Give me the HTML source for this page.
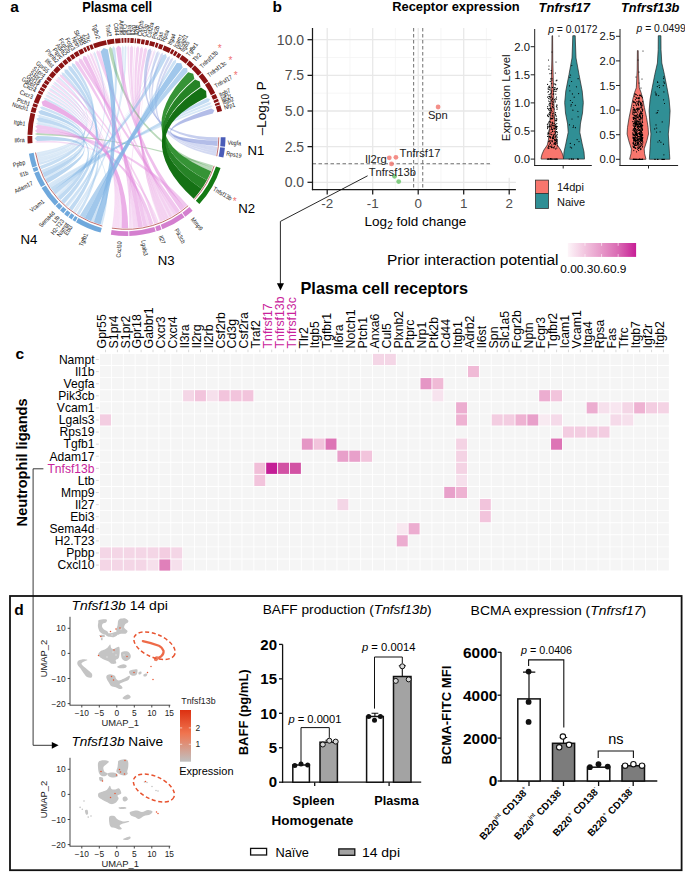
<!DOCTYPE html>
<html><head><meta charset="utf-8"><style>
html,body{margin:0;padding:0;background:#fff;}
svg{display:block;font-family:'Liberation Sans', sans-serif;}

</style></head><body>
<svg width="685" height="878" viewBox="0 0 685 878">
<rect width="685" height="878" fill="#fff"/>
<text x="10.20" y="11.80" font-size="15.5" font-weight="bold">a</text>
<text x="272.40" y="12.10" font-size="15.5" font-weight="bold">b</text>
<text x="15.60" y="358.50" font-size="15.5" font-weight="bold">c</text>
<text x="14.20" y="614.80" font-size="15.5" font-weight="bold">d</text>
<text x="82.20" y="11.70" font-size="14.0" font-weight="bold" textLength="70" lengthAdjust="spacingAndGlyphs">Plasma cell</text>
<text x="392.20" y="11.10" font-size="12.6" font-weight="bold" textLength="127.5" lengthAdjust="spacingAndGlyphs">Receptor expression</text>
<text x="538.60" y="11.60" font-size="12.6" font-weight="bold" font-style="italic" textLength="51.3" lengthAdjust="spacingAndGlyphs">Tnfrsf17</text>
<text x="621.00" y="11.60" font-size="12.6" font-weight="bold" font-style="italic" textLength="58.4" lengthAdjust="spacingAndGlyphs">Tnfrsf13b</text>
<path d="M349.95 28.0V189.6M395.45 28.0V189.6M440.95 28.0V189.6M486.45 28.0V189.6M312.5 164.48H515.9M312.5 128.83H515.9M312.5 93.18H515.9M312.5 57.53H515.9" stroke="#f2f2f2" stroke-width="0.7" fill="none"/>
<path d="M327.20 28.0V189.6M372.70 28.0V189.6M418.20 28.0V189.6M463.70 28.0V189.6M509.20 28.0V189.6M312.5 182.30H515.9M312.5 146.65H515.9M312.5 111.00H515.9M312.5 75.35H515.9M312.5 39.70H515.9" stroke="#e8e8e8" stroke-width="1.3" fill="none"/>
<path d="M413.65 28.0V189.6M422.75 28.0V189.6M312.5 163.76H515.9" stroke="#555" stroke-width="0.85" stroke-dasharray="3.5 2.5" fill="none"/>
<line x1="312.50" y1="28.00" x2="312.50" y2="190.20" stroke="#1a1a1a" stroke-width="1.25"/>
<line x1="311.90" y1="189.60" x2="515.90" y2="189.60" stroke="#1a1a1a" stroke-width="1.25"/>
<line x1="307.50" y1="182.30" x2="312.50" y2="182.30" stroke="#1a1a1a" stroke-width="1.25"/>
<text x="304.10" y="187.30" font-size="14" text-anchor="end" fill="#4d4d4d">0.0</text>
<line x1="307.50" y1="146.65" x2="312.50" y2="146.65" stroke="#1a1a1a" stroke-width="1.25"/>
<text x="304.10" y="151.65" font-size="14" text-anchor="end" fill="#4d4d4d">2.5</text>
<line x1="307.50" y1="111.00" x2="312.50" y2="111.00" stroke="#1a1a1a" stroke-width="1.25"/>
<text x="304.10" y="116.00" font-size="14" text-anchor="end" fill="#4d4d4d">5.0</text>
<line x1="307.50" y1="75.35" x2="312.50" y2="75.35" stroke="#1a1a1a" stroke-width="1.25"/>
<text x="304.10" y="80.35" font-size="14" text-anchor="end" fill="#4d4d4d">7.5</text>
<line x1="307.50" y1="39.70" x2="312.50" y2="39.70" stroke="#1a1a1a" stroke-width="1.25"/>
<text x="304.10" y="44.70" font-size="14" text-anchor="end" fill="#4d4d4d">10.0</text>
<line x1="327.20" y1="189.60" x2="327.20" y2="194.60" stroke="#1a1a1a" stroke-width="1.25"/>
<text x="327.20" y="208.10" font-size="13.4" text-anchor="middle" fill="#4d4d4d">-2</text>
<line x1="372.70" y1="189.60" x2="372.70" y2="194.60" stroke="#1a1a1a" stroke-width="1.25"/>
<text x="372.70" y="208.10" font-size="13.4" text-anchor="middle" fill="#4d4d4d">-1</text>
<line x1="418.20" y1="189.60" x2="418.20" y2="194.60" stroke="#1a1a1a" stroke-width="1.25"/>
<text x="418.20" y="208.10" font-size="13.4" text-anchor="middle" fill="#4d4d4d">0</text>
<line x1="463.70" y1="189.60" x2="463.70" y2="194.60" stroke="#1a1a1a" stroke-width="1.25"/>
<text x="463.70" y="208.10" font-size="13.4" text-anchor="middle" fill="#4d4d4d">1</text>
<line x1="509.20" y1="189.60" x2="509.20" y2="194.60" stroke="#1a1a1a" stroke-width="1.25"/>
<text x="509.20" y="208.10" font-size="13.4" text-anchor="middle" fill="#4d4d4d">2</text>
<text x="364.6" y="226.4" font-size="13.5">Log<tspan font-size="10" dy="3">2</tspan><tspan dy="-3"> fold change</tspan></text>
<text x="265.8" y="108.2" font-size="13.5" text-anchor="middle" transform="rotate(-90 265.8 108.2)">–Log<tspan font-size="10" dy="3">10</tspan><tspan dy="-3"> P</tspan></text>
<circle cx="438.1" cy="107.0" r="2.4" fill="#f27b74" fill-opacity="0.85"/>
<circle cx="389.3" cy="157.8" r="2.4" fill="#f27b74" fill-opacity="0.85"/>
<circle cx="395.9" cy="157.3" r="2.4" fill="#f27b74" fill-opacity="0.85"/>
<circle cx="391.5" cy="163.9" r="2.4" fill="#f27b74" fill-opacity="0.85"/>
<circle cx="394.5" cy="176.3" r="2.4" fill="#6cc46c" fill-opacity="0.85"/>
<circle cx="398.7" cy="181.6" r="2.4" fill="#6cc46c" fill-opacity="0.85"/>
<text x="427.90" y="118.80" font-size="11.2" fill="#222">Spn</text>
<text x="399.40" y="156.60" font-size="11.2" fill="#222">Tnfrsf17</text>
<text x="365.00" y="162.80" font-size="11.2" fill="#222">Il2rg</text>
<text x="368.70" y="176.10" font-size="11.2" fill="#222">Tnfrsf13b</text>
<path d="M367.6 175.8L280.4 221.4V284" stroke="#111" stroke-width="0.9" fill="none"/>
<path d="M276.9 283.2L284.0 283.2L280.45 290.6Z" fill="#000"/>
<rect x="491.30" y="24.00" width="193.70" height="153.80" fill="#fff"/>
<path d="M552.00 35.70L551.85 60.00L551.50 72.90L551.10 91.00L550.30 114.60L549.30 130.00L548.40 140.00L547.30 145.00L543.90 150.00L542.10 154.00L541.30 157.00L541.10 159.10L563.50 159.10L563.30 157.00L562.50 154.00L560.70 150.00L557.30 145.00L556.20 140.00L555.30 130.00L554.30 114.60L553.50 91.00L553.10 72.90L552.75 60.00L552.60 35.70Z" fill="#f8766d" stroke="#222" stroke-width="0.7"/>
<path d="M572.80 35.70L572.50 45.00L572.00 58.00L569.00 74.50L565.80 91.00L564.70 102.60L565.50 113.00L567.60 124.00L568.20 132.30L565.80 143.90L564.00 152.00L563.50 158.80L563.50 159.10L584.50 159.10L584.50 158.80L584.00 152.00L582.20 143.90L579.80 132.30L580.40 124.00L582.50 113.00L583.30 102.60L582.20 91.00L579.00 74.50L576.00 58.00L575.50 45.00L575.20 35.70Z" fill="#308f95" stroke="#222" stroke-width="0.7"/>
<path d="M637.40 50.60L637.20 70.00L636.30 87.80L634.50 92.70L632.80 99.30L631.20 107.60L629.10 117.50L627.50 127.40L627.10 134.00L628.70 140.60L631.40 148.90L631.00 153.80L629.70 158.80L629.70 159.30L645.90 159.30L645.90 158.80L644.60 153.80L644.20 148.90L646.90 140.60L648.50 134.00L648.10 127.40L646.50 117.50L644.40 107.60L642.80 99.30L641.10 92.70L639.30 87.80L638.40 70.00L638.20 50.60Z" fill="#f8766d" stroke="#222" stroke-width="0.7"/>
<path d="M658.30 35.70L658.20 49.80L657.40 63.00L654.80 74.50L652.20 87.80L650.10 99.30L649.10 110.90L649.90 124.10L650.90 134.00L650.30 143.90L649.70 153.80L649.40 158.80L649.40 159.30L669.80 159.30L669.80 158.80L669.50 153.80L668.90 143.90L668.30 134.00L669.30 124.10L670.10 110.90L669.10 99.30L667.00 87.80L664.40 74.50L661.80 63.00L661.00 49.80L660.90 35.70Z" fill="#308f95" stroke="#222" stroke-width="0.7"/>
<path d="M548.9 113.8h0M548.1 132.9h0M551.1 126.9h0M552.5 87.4h0M551.7 83.6h0M548.3 89.3h0M555.7 120.4h0M549.6 96.3h0M556.9 131.7h0M551.4 129.1h0M547.9 147.9h0M550.3 142.6h0M548.6 98.6h0M555.6 112.7h0M553.2 102.2h0M551.1 132.3h0M548.0 127.5h0M549.5 87.6h0M551.7 134.4h0M553.3 113.1h0M550.4 122.2h0M554.4 139.7h0M553.1 107.8h0M556.2 126.3h0M550.3 136.7h0M548.6 148.1h0M555.0 120.0h0M552.3 99.4h0M554.1 83.9h0M553.1 138.4h0M550.5 143.3h0M553.3 135.1h0M552.0 129.3h0M556.8 141.7h0M554.0 123.4h0M554.4 87.8h0M557.3 132.7h0M550.2 140.9h0M554.1 118.0h0M552.0 80.1h0M548.6 101.0h0M555.1 87.5h0M549.9 96.9h0M556.1 118.3h0M551.9 90.8h0M556.2 127.6h0M556.0 140.8h0M551.6 110.5h0M556.2 116.2h0M548.9 146.8h0M549.7 101.8h0M552.2 106.9h0M550.0 129.8h0M551.6 73.1h0M553.1 116.9h0M554.3 146.6h0M553.6 125.8h0M547.9 134.2h0M555.2 144.3h0M555.4 143.2h0M551.4 118.4h0M553.7 93.9h0M548.1 88.1h0M549.0 104.8h0M547.9 114.9h0M548.9 69.2h0M551.0 93.6h0M556.1 80.8h0M548.9 131.1h0M550.9 108.4h0M548.6 116.6h0M557.3 142.1h0M552.2 122.9h0M548.4 91.6h0M550.0 115.1h0M549.0 141.3h0M556.9 80.2h0M548.9 126.5h0M547.7 127.3h0M557.2 126.5h0M554.4 142.8h0M551.1 109.1h0M555.1 100.9h0M555.2 126.7h0M549.6 114.2h0M557.2 140.5h0M555.5 142.3h0M554.8 140.8h0M552.6 106.3h0M547.7 116.0h0M550.2 81.4h0M554.3 109.0h0M551.9 146.8h0M557.3 145.9h0M551.0 146.7h0M549.7 105.8h0M549.4 103.7h0M556.4 131.6h0M552.2 141.8h0M555.4 133.0h0M554.0 91.4h0M555.2 144.7h0M552.2 137.7h0M555.3 102.0h0M555.4 114.4h0M551.4 147.6h0M556.9 119.0h0M549.1 136.5h0M548.9 96.7h0M555.5 144.5h0M555.7 98.8h0M554.0 148.1h0M552.9 115.6h0M547.5 97.1h0M553.9 147.5h0M556.7 126.4h0M556.1 121.0h0M549.5 141.1h0M550.3 108.4h0M553.3 107.5h0M551.6 109.0h0M556.5 97.1h0M552.0 115.9h0M556.4 129.5h0M556.6 120.2h0M552.7 125.0h0M547.6 126.2h0M549.2 121.4h0M555.4 73.0h0M552.1 101.4h0M553.0 136.5h0M552.6 113.9h0M555.2 128.0h0M553.0 94.2h0M550.2 108.1h0M552.5 138.7h0M555.0 128.3h0M551.8 144.9h0M552.5 131.0h0M554.3 125.6h0M552.7 122.1h0M556.8 123.6h0M556.2 135.3h0M550.0 146.1h0M556.8 128.2h0M548.8 141.7h0M551.8 96.1h0M549.8 89.7h0M554.1 89.8h0M556.4 139.2h0M554.6 99.6h0M548.8 133.4h0M557.1 143.6h0M556.9 105.7h0M552.3 118.8h0M555.7 148.9h0M551.7 100.3h0M550.8 125.8h0M550.6 103.6h0M547.6 136.4h0M551.8 127.9h0M550.7 78.8h0M552.5 131.6h0M557.3 88.4h0M557.1 139.4h0M550.1 94.0h0M555.2 84.0h0M548.7 109.8h0M556.5 120.3h0M550.0 140.8h0M556.6 99.1h0M554.4 128.8h0M548.0 92.1h0M551.7 134.7h0M556.8 89.7h0M555.4 132.1h0M556.0 91.3h0M556.0 88.8h0M550.8 122.2h0M556.7 127.8h0M548.7 109.6h0M549.8 126.4h0M549.0 94.6h0M549.4 86.1h0M550.5 112.9h0M550.3 138.1h0M549.2 124.9h0M547.6 115.4h0M547.6 108.3h0M552.9 136.9h0M552.1 103.0h0M548.5 145.8h0M551.7 140.8h0M555.7 124.6h0M552.5 118.4h0M557.2 134.7h0M555.7 115.1h0M553.8 135.6h0M550.9 119.2h0M548.7 86.8h0M554.8 89.4h0M549.0 108.7h0M555.8 91.4h0M554.1 143.1h0M549.8 110.7h0M552.0 111.6h0M551.9 99.9h0M557.0 109.3h0M552.9 147.6h0M557.1 107.8h0M551.0 112.8h0M551.2 70.6h0M552.4 123.4h0M552.4 104.1h0M550.0 73.7h0M551.4 92.1h0M547.6 84.4h0M549.7 112.4h0M552.7 129.6h0M554.0 137.7h0M556.2 136.1h0M550.7 118.2h0M548.9 148.5h0M553.8 136.5h0M555.8 84.8h0M553.7 144.0h0M555.5 136.9h0M552.6 98.0h0M555.7 125.1h0M555.7 140.2h0M556.3 129.5h0M554.3 134.5h0M547.7 106.6h0M551.0 97.4h0M555.8 94.1h0M553.7 128.1h0M554.2 131.7h0M547.4 124.3h0M554.9 139.9h0M552.8 125.1h0M548.1 133.3h0M549.9 137.1h0M550.1 90.0h0M549.5 136.7h0M557.2 137.2h0M551.2 124.5h0M554.2 123.7h0M553.6 138.5h0M548.2 132.5h0M549.9 98.9h0M550.4 137.4h0M547.5 128.6h0M550.1 87.8h0M554.3 134.0h0M550.3 134.1h0M552.0 125.8h0M548.6 122.9h0M549.4 144.1h0M556.8 148.0h0M552.0 78.6h0M557.1 140.9h0M550.1 121.9h0M556.9 104.9h0M553.2 104.9h0M552.6 98.3h0M548.7 146.6h0M552.5 140.9h0M554.4 143.8h0M556.4 106.7h0M547.6 124.1h0M547.4 159.1h0M552.3 159.1h0M551.9 159.1h0M550.4 159.1h0M548.8 159.1h0M550.8 159.1h0M550.6 159.1h0M555.8 159.1h0M547.4 159.1h0M554.9 159.1h0M555.8 159.1h0M548.6 159.1h0M556.7 159.1h0M554.5 159.1h0M556.4 159.1h0M550.3 159.1h0M551.1 159.1h0M551.3 159.1h0M557.4 159.1h0M553.3 159.1h0M551.0 159.1h0M551.7 159.1h0M550.2 159.1h0M547.9 159.1h0M548.4 159.1h0M555.7 159.1h0M550.3 159.1h0M556.8 159.1h0M549.9 159.1h0M550.1 159.1h0M548.5 60.0h0M549.0 66.0h0M556.0 62.0h0M552.0 52.0h0M559.0 36.0h0M570.9 106.0h0M578.6 93.6h0M577.1 139.6h0M578.1 116.8h0M574.5 144.7h0M569.5 124.8h0M573.5 125.9h0M575.4 127.7h0M569.5 85.8h0M570.3 143.4h0M572.4 102.5h0M576.4 86.8h0M571.6 147.9h0M572.0 119.0h0M572.9 110.2h0M570.6 75.1h0M578.1 78.7h0M571.2 104.7h0M579.0 141.6h0M570.4 100.5h0M569.9 77.3h0M569.9 90.8h0M571.6 81.5h0M577.9 111.3h0M573.1 127.5h0M574.2 97.2h0M572.4 93.9h0M571.8 65.6h0M570.3 147.1h0M575.3 105.3h0M577.6 159.1h0M571.2 159.1h0M571.7 159.1h0M571.5 159.1h0M573.0 159.1h0M573.5 159.1h0M578.5 159.1h0M577.5 159.1h0M577.7 159.1h0M569.2 159.1h0M639.9 101.6h0M637.5 143.5h0M632.8 132.8h0M642.1 125.3h0M641.4 140.6h0M635.3 148.4h0M634.3 109.6h0M639.6 130.4h0M640.0 146.0h0M640.4 134.8h0M638.3 128.0h0M640.6 102.6h0M642.0 117.7h0M635.8 134.7h0M635.3 111.0h0M639.8 134.4h0M633.5 109.8h0M638.6 130.5h0M635.0 125.1h0M632.9 133.2h0M637.4 121.2h0M639.2 147.2h0M637.6 143.0h0M635.3 117.8h0M639.8 147.4h0M633.0 121.5h0M639.5 129.5h0M635.4 126.5h0M642.1 135.5h0M633.1 117.3h0M637.0 122.9h0M634.8 135.9h0M640.2 139.6h0M634.9 129.8h0M635.9 148.1h0M635.1 140.4h0M640.4 117.0h0M642.3 120.9h0M634.7 129.5h0M637.0 117.1h0M642.3 135.4h0M636.7 112.3h0M642.5 116.5h0M633.3 112.0h0M636.7 105.0h0M641.6 143.6h0M642.8 137.5h0M636.1 145.4h0M642.2 114.9h0M633.1 137.9h0M636.6 135.4h0M636.1 124.5h0M632.8 113.9h0M636.3 120.1h0M634.0 147.0h0M634.9 147.7h0M641.0 123.8h0M637.1 140.5h0M637.5 103.8h0M642.0 124.5h0M636.4 115.4h0M633.1 143.6h0M640.9 126.1h0M633.2 138.6h0M633.4 101.9h0M635.4 144.8h0M641.8 138.0h0M635.5 123.0h0M639.0 147.1h0M640.0 119.2h0M635.6 121.9h0M640.4 95.3h0M639.1 144.6h0M633.0 146.1h0M637.6 117.7h0M642.3 147.1h0M635.3 125.1h0M637.7 126.9h0M634.6 145.2h0M640.2 139.8h0M640.5 140.5h0M636.1 133.4h0M636.4 122.1h0M633.6 139.1h0M640.3 115.6h0M633.4 118.5h0M638.3 101.8h0M642.6 122.4h0M642.7 143.0h0M633.6 119.4h0M637.8 108.5h0M637.3 136.8h0M637.0 117.7h0M639.5 133.9h0M641.3 138.0h0M634.0 135.4h0M635.7 141.2h0M636.5 132.0h0M634.8 137.7h0M635.3 118.5h0M641.6 112.8h0M636.1 132.4h0M642.7 125.5h0M635.1 129.9h0M639.3 140.0h0M633.8 150.6h0M641.0 128.6h0M641.9 141.2h0M635.7 102.7h0M634.7 110.4h0M638.6 148.4h0M636.5 145.3h0M637.3 142.2h0M640.6 119.1h0M633.9 146.3h0M639.0 133.1h0M636.5 116.8h0M634.8 112.0h0M638.8 118.9h0M634.8 134.9h0M636.1 97.7h0M634.7 135.8h0M634.8 121.7h0M638.3 139.5h0M633.8 105.4h0M638.3 125.4h0M633.7 134.5h0M639.8 113.5h0M635.6 126.0h0M642.3 121.5h0M638.5 121.7h0M637.0 123.8h0M642.8 142.1h0M634.8 124.1h0M634.8 137.4h0M641.8 96.1h0M641.0 126.6h0M641.6 125.9h0M634.4 128.1h0M638.3 98.5h0M641.9 134.6h0M639.0 107.9h0M637.8 124.4h0M635.6 112.3h0M642.1 130.4h0M637.7 109.5h0M642.5 139.9h0M634.1 115.6h0M642.6 146.1h0M633.3 129.0h0M636.7 145.1h0M639.0 143.9h0M634.4 140.6h0M635.0 139.2h0M641.3 125.8h0M634.6 140.7h0M636.8 116.8h0M636.6 130.3h0M635.3 110.7h0M641.8 137.3h0M638.4 102.8h0M633.2 138.3h0M634.0 141.1h0M638.3 133.2h0M635.9 134.1h0M638.6 126.5h0M639.4 126.7h0M637.2 127.6h0M639.0 100.1h0M635.2 129.2h0M640.6 138.5h0M634.6 128.0h0M633.9 128.6h0M637.1 111.1h0M637.2 108.1h0M633.2 130.0h0M633.6 134.4h0M640.6 137.6h0M633.3 130.0h0M636.6 129.8h0M634.2 146.7h0M642.8 141.8h0M640.9 137.5h0M642.6 115.4h0M642.4 129.3h0M634.5 144.6h0M642.1 139.3h0M636.3 105.6h0M634.4 138.3h0M635.5 143.6h0M634.2 140.2h0M642.0 129.7h0M635.4 116.3h0M636.0 129.8h0M634.6 102.2h0M642.2 113.4h0M641.8 135.8h0M640.6 113.8h0M638.1 110.0h0M636.4 134.4h0M638.4 142.5h0M641.6 132.5h0M642.7 109.2h0M636.7 134.2h0M635.4 139.6h0M638.6 150.5h0M640.4 123.9h0M634.6 127.4h0M633.3 137.9h0M635.3 140.4h0M642.6 134.5h0M639.4 132.7h0M632.8 121.7h0M634.3 101.8h0M637.1 133.7h0M641.8 130.1h0M635.1 111.3h0M633.0 135.0h0M636.3 94.7h0M636.4 109.3h0M638.6 117.2h0M634.8 132.8h0M637.5 134.0h0M642.2 111.5h0M634.3 118.3h0M639.2 108.5h0M640.6 142.4h0M635.4 125.7h0M639.2 97.7h0M636.3 131.9h0M637.2 134.7h0M640.1 145.8h0M641.8 118.5h0M638.1 103.2h0M635.2 125.9h0M640.6 104.9h0M638.3 97.9h0M634.2 146.0h0M638.9 115.8h0M639.2 129.9h0M634.5 140.2h0M635.8 121.6h0M641.7 103.7h0M640.0 139.1h0M641.2 96.2h0M637.5 137.9h0M637.3 137.8h0M633.9 117.3h0M633.2 117.6h0M640.3 122.8h0M641.3 136.3h0M635.5 136.9h0M637.2 131.6h0M638.0 139.3h0M639.2 119.4h0M635.0 147.7h0M633.0 142.8h0M635.2 119.1h0M642.2 137.9h0M636.1 137.9h0M636.1 142.8h0M641.9 118.0h0M639.7 134.2h0M642.6 135.4h0M641.2 128.4h0M641.4 136.4h0M640.0 127.2h0M635.9 132.2h0M639.0 116.5h0M641.9 106.8h0M633.1 112.2h0M642.1 109.4h0M634.2 123.2h0M633.2 101.0h0M639.1 136.3h0M640.2 136.4h0M638.7 105.6h0M641.0 124.1h0M641.7 140.4h0M641.5 105.7h0M642.2 144.5h0M634.9 109.4h0M633.1 109.8h0M640.9 141.5h0M641.1 134.4h0M635.7 134.3h0M633.8 108.8h0M634.8 138.3h0M637.0 122.0h0M635.4 99.7h0M640.0 120.3h0M636.0 124.3h0M637.8 147.6h0M639.0 141.6h0M636.9 101.4h0M640.5 127.1h0M639.8 123.3h0M635.0 131.0h0M633.7 142.0h0M634.5 140.4h0M634.8 93.9h0M642.6 138.4h0M637.7 95.5h0M640.8 129.3h0M637.7 114.8h0M641.1 123.3h0M642.2 119.2h0M634.9 120.3h0M637.8 136.5h0M639.2 109.6h0M640.7 107.1h0M640.7 136.4h0M636.4 134.1h0M636.7 125.7h0M633.7 143.3h0M633.1 143.2h0M635.4 116.1h0M637.8 143.8h0M641.6 124.8h0M637.4 117.7h0M640.3 130.8h0M639.3 138.2h0M636.1 123.4h0M641.2 113.0h0M640.2 135.3h0M637.2 113.9h0M638.6 138.8h0M637.4 110.9h0M635.2 143.0h0M635.8 115.3h0M641.2 136.6h0M634.4 112.9h0M636.1 118.5h0M634.4 130.4h0M634.7 122.5h0M640.1 148.6h0M642.4 109.0h0M636.6 109.0h0M640.7 149.6h0M637.1 137.5h0M639.2 115.6h0M634.9 109.4h0M633.1 125.1h0M640.7 125.6h0M637.8 136.3h0M637.4 134.3h0M638.8 112.0h0M640.2 125.8h0M637.1 144.1h0M640.3 132.3h0M635.1 126.5h0M641.6 137.2h0M639.8 138.8h0M639.6 141.6h0M637.3 134.6h0M639.1 121.8h0M637.0 108.6h0M639.9 139.1h0M635.3 134.2h0M637.4 126.6h0M636.9 133.9h0M642.1 135.7h0M639.3 114.8h0M636.7 139.0h0M642.5 129.2h0M638.2 102.4h0M640.6 113.3h0M638.0 146.0h0M638.5 108.9h0M640.0 131.1h0M639.2 130.1h0M638.0 140.7h0M642.3 126.1h0M639.6 116.4h0M640.4 125.3h0M642.6 110.6h0M633.4 123.7h0M636.8 119.9h0M637.0 98.1h0M639.8 126.5h0M635.5 123.6h0M640.2 117.2h0M638.1 145.9h0M640.8 116.9h0M634.9 125.3h0M640.6 111.1h0M639.1 140.0h0M638.4 128.4h0M642.4 117.3h0M639.2 123.6h0M641.0 140.4h0M635.7 128.4h0M634.1 131.4h0M636.3 140.9h0M635.5 141.6h0M635.3 124.6h0M634.7 126.7h0M640.0 94.8h0M635.2 120.2h0M637.6 121.2h0M639.2 126.8h0M636.4 135.2h0M641.3 145.3h0M641.1 104.7h0M640.6 144.0h0M641.1 111.9h0M632.9 134.3h0M642.3 97.7h0M635.3 135.1h0M634.2 108.9h0M640.6 117.7h0M634.3 123.3h0M640.7 143.9h0M641.7 113.8h0M640.6 133.5h0M641.7 135.5h0M641.2 139.3h0M639.7 115.6h0M640.2 130.8h0M641.6 127.2h0M635.4 131.6h0M634.2 117.7h0M633.4 129.3h0M634.2 128.4h0M637.8 129.3h0M641.4 131.1h0M641.2 96.3h0M638.4 128.4h0M641.2 135.4h0M637.0 124.6h0M633.6 147.4h0M639.2 134.5h0M638.9 101.0h0M642.1 135.9h0M642.6 122.6h0M637.6 130.0h0M633.1 143.6h0M639.1 137.1h0M641.4 123.0h0M637.5 124.2h0M640.5 130.6h0M637.2 116.4h0M638.3 126.6h0M635.7 140.6h0M636.8 140.7h0M635.5 129.8h0M642.5 129.9h0M640.7 135.0h0M636.0 122.6h0M638.7 121.1h0M640.6 134.4h0M640.0 102.6h0M638.3 143.1h0M635.8 103.9h0M634.7 96.2h0M638.9 144.8h0M640.7 135.1h0M638.9 144.2h0M639.1 133.8h0M638.8 136.4h0M634.9 135.9h0M637.4 135.4h0M633.8 138.5h0M633.2 114.6h0M641.9 138.8h0M636.5 135.1h0M640.7 140.5h0M635.4 131.9h0M637.0 121.2h0M637.1 122.0h0M642.1 134.6h0M638.5 104.4h0M634.0 102.6h0M638.6 140.1h0M637.3 144.7h0M636.7 98.3h0M642.2 132.9h0M637.6 149.2h0M633.8 126.2h0M634.9 134.7h0M633.0 112.7h0M639.6 95.7h0M642.5 110.6h0M641.5 107.8h0M633.0 111.1h0M635.2 137.1h0M634.7 137.6h0M640.5 103.9h0M641.4 136.9h0M633.6 137.4h0M639.9 134.2h0M642.1 128.1h0M642.4 118.8h0M632.9 137.0h0M639.3 98.5h0M633.6 140.3h0M640.1 121.7h0M641.4 113.7h0M633.4 129.1h0M638.5 124.2h0M639.6 127.2h0M640.8 112.2h0M639.2 124.1h0M637.0 134.2h0M640.7 125.0h0M640.6 146.3h0M635.7 132.0h0M642.5 105.1h0M641.1 136.6h0M638.9 122.6h0M641.1 148.9h0M635.9 133.2h0M641.7 126.8h0M639.6 124.6h0M641.8 133.3h0M635.6 140.0h0M635.4 94.2h0M638.7 126.6h0M641.7 140.3h0M641.1 102.9h0M641.5 140.1h0M635.5 132.2h0M640.9 141.6h0M641.9 136.0h0M633.7 123.3h0M640.8 131.6h0M640.3 115.8h0M635.1 145.4h0M639.6 133.4h0M634.9 128.3h0M640.3 118.8h0M637.4 139.4h0M640.9 107.8h0M635.1 138.8h0M641.8 132.5h0M638.0 143.0h0M638.7 128.7h0M634.7 115.1h0M639.8 114.6h0M638.4 124.0h0M638.0 125.7h0M633.2 112.5h0M636.5 151.8h0M639.1 109.3h0M634.4 139.3h0M636.2 133.1h0M633.0 130.3h0M642.7 101.7h0M637.7 142.2h0M635.4 132.1h0M637.1 139.0h0M640.5 146.4h0M642.4 140.4h0M633.2 118.8h0M634.6 115.8h0M633.3 107.4h0M641.5 131.7h0M642.3 128.0h0M633.4 144.2h0M636.8 133.1h0M634.0 159.3h0M642.4 159.3h0M635.4 159.3h0M638.4 159.3h0M639.2 159.3h0M642.4 159.3h0M639.5 159.3h0M636.7 159.3h0M637.3 159.3h0M634.4 159.3h0M642.5 159.3h0M642.7 159.3h0M635.0 159.3h0M633.2 159.3h0M635.4 159.3h0M636.3 159.3h0M641.8 159.3h0M641.8 159.3h0M641.2 159.3h0M633.3 159.3h0M640.7 159.3h0M639.9 159.3h0M639.3 159.3h0M642.7 159.3h0M633.4 159.3h0M634.2 159.3h0M640.3 159.3h0M642.2 159.3h0M639.6 159.3h0M635.8 159.3h0M638.0 60.0h0M639.0 72.0h0M641.0 88.0h0M642.0 79.0h0M643.0 51.0h0M636.0 77.0h0M639.0 83.0h0M662.2 121.9h0M657.8 82.5h0M655.8 94.8h0M656.3 113.0h0M656.0 93.3h0M654.7 128.9h0M656.6 132.1h0M663.9 76.9h0M663.9 91.9h0M663.5 144.2h0M659.1 85.3h0M663.9 81.9h0M660.9 142.2h0M658.0 110.6h0M659.4 140.7h0M656.0 124.9h0M655.2 92.0h0M660.1 131.8h0M663.3 85.7h0M658.7 95.6h0M657.3 86.6h0M657.9 142.0h0M659.5 87.6h0M663.6 99.8h0M664.4 83.2h0M663.6 78.6h0M656.7 128.1h0M657.5 112.7h0M656.6 94.9h0M664.5 103.5h0M663.9 154.8h0M657.5 81.9h0M663.6 159.3h0M655.2 159.3h0M661.9 159.3h0M657.5 159.3h0M664.4 159.3h0M654.8 159.3h0M662.7 159.3h0M658.0 159.3h0" stroke="#000" stroke-width="1.2" stroke-linecap="round" fill="none"/>
<line x1="534.70" y1="29.00" x2="534.70" y2="166.00" stroke="#222" stroke-width="1.0"/>
<line x1="534.20" y1="165.50" x2="591.80" y2="165.50" stroke="#222" stroke-width="1.0"/>
<line x1="563.20" y1="165.50" x2="563.20" y2="168.50" stroke="#222" stroke-width="1.0"/>
<line x1="530.70" y1="159.10" x2="534.70" y2="159.10" stroke="#222" stroke-width="1.0"/>
<text x="530.00" y="163.10" font-size="11.3" text-anchor="end" fill="#111">0.0</text>
<line x1="530.70" y1="131.00" x2="534.70" y2="131.00" stroke="#222" stroke-width="1.0"/>
<text x="530.00" y="135.00" font-size="11.3" text-anchor="end" fill="#111">0.5</text>
<line x1="530.70" y1="102.90" x2="534.70" y2="102.90" stroke="#222" stroke-width="1.0"/>
<text x="530.00" y="106.90" font-size="11.3" text-anchor="end" fill="#111">1.0</text>
<line x1="530.70" y1="74.80" x2="534.70" y2="74.80" stroke="#222" stroke-width="1.0"/>
<text x="530.00" y="78.80" font-size="11.3" text-anchor="end" fill="#111">1.5</text>
<line x1="530.70" y1="46.70" x2="534.70" y2="46.70" stroke="#222" stroke-width="1.0"/>
<text x="530.00" y="50.70" font-size="11.3" text-anchor="end" fill="#111">2.0</text>
<line x1="620.00" y1="29.00" x2="620.00" y2="166.00" stroke="#222" stroke-width="1.0"/>
<line x1="619.50" y1="165.50" x2="678.10" y2="165.50" stroke="#222" stroke-width="1.0"/>
<line x1="648.50" y1="165.50" x2="648.50" y2="168.50" stroke="#222" stroke-width="1.0"/>
<line x1="616.00" y1="159.30" x2="620.00" y2="159.30" stroke="#222" stroke-width="1.0"/>
<text x="615.30" y="163.30" font-size="11.3" text-anchor="end" fill="#111">0.0</text>
<line x1="616.00" y1="134.70" x2="620.00" y2="134.70" stroke="#222" stroke-width="1.0"/>
<text x="615.30" y="138.70" font-size="11.3" text-anchor="end" fill="#111">0.5</text>
<line x1="616.00" y1="110.10" x2="620.00" y2="110.10" stroke="#222" stroke-width="1.0"/>
<text x="615.30" y="114.10" font-size="11.3" text-anchor="end" fill="#111">1.0</text>
<line x1="616.00" y1="85.50" x2="620.00" y2="85.50" stroke="#222" stroke-width="1.0"/>
<text x="615.30" y="89.50" font-size="11.3" text-anchor="end" fill="#111">1.5</text>
<line x1="616.00" y1="60.90" x2="620.00" y2="60.90" stroke="#222" stroke-width="1.0"/>
<text x="615.30" y="64.90" font-size="11.3" text-anchor="end" fill="#111">2.0</text>
<line x1="616.00" y1="36.30" x2="620.00" y2="36.30" stroke="#222" stroke-width="1.0"/>
<text x="615.30" y="40.30" font-size="11.3" text-anchor="end" fill="#111">2.5</text>
<text x="510.00" y="97.80" font-size="11.4" text-anchor="middle" fill="#111" transform="rotate(-90 510.00 97.80)">Expression Level</text>
<text x="548.2" y="33.3" font-size="10.4" fill="#111"><tspan font-style="italic">p</tspan> = 0.0172</text>
<text x="636.5" y="32.0" font-size="10.4" fill="#111"><tspan font-style="italic">p</tspan> = 0.0499</text>
<rect x="535.40" y="180.10" width="13.10" height="13.40" fill="#f8766d" stroke="#333" stroke-width="0.8"/>
<rect x="535.40" y="193.50" width="13.10" height="15.00" fill="#308f95" stroke="#333" stroke-width="0.8"/>
<text x="557.00" y="190.80" font-size="11.0" fill="#111">14dpi</text>
<text x="557.00" y="205.60" font-size="11.0" fill="#111">Naive</text>
<path d="M100.00 353.90h10.97v11.19h-10.97zM111.87 353.90h10.97v11.19h-10.97zM123.74 353.90h10.97v11.19h-10.97zM135.61 353.90h10.97v11.19h-10.97zM147.48 353.90h10.97v11.19h-10.97zM159.35 353.90h10.97v11.19h-10.97zM171.22 353.90h10.97v11.19h-10.97zM183.09 353.90h10.97v11.19h-10.97zM194.96 353.90h10.97v11.19h-10.97zM206.83 353.90h10.97v11.19h-10.97zM218.70 353.90h10.97v11.19h-10.97zM230.57 353.90h10.97v11.19h-10.97zM242.44 353.90h10.97v11.19h-10.97zM254.31 353.90h10.97v11.19h-10.97zM266.18 353.90h10.97v11.19h-10.97zM278.05 353.90h10.97v11.19h-10.97zM289.92 353.90h10.97v11.19h-10.97zM301.79 353.90h10.97v11.19h-10.97zM313.66 353.90h10.97v11.19h-10.97zM325.53 353.90h10.97v11.19h-10.97zM337.40 353.90h10.97v11.19h-10.97zM349.27 353.90h10.97v11.19h-10.97zM361.14 353.90h10.97v11.19h-10.97zM396.75 353.90h10.97v11.19h-10.97zM408.62 353.90h10.97v11.19h-10.97zM420.49 353.90h10.97v11.19h-10.97zM432.36 353.90h10.97v11.19h-10.97zM444.23 353.90h10.97v11.19h-10.97zM456.10 353.90h10.97v11.19h-10.97zM467.97 353.90h10.97v11.19h-10.97zM479.84 353.90h10.97v11.19h-10.97zM491.71 353.90h10.97v11.19h-10.97zM503.58 353.90h10.97v11.19h-10.97zM515.45 353.90h10.97v11.19h-10.97zM527.32 353.90h10.97v11.19h-10.97zM539.19 353.90h10.97v11.19h-10.97zM551.06 353.90h10.97v11.19h-10.97zM562.93 353.90h10.97v11.19h-10.97zM574.80 353.90h10.97v11.19h-10.97zM586.67 353.90h10.97v11.19h-10.97zM598.54 353.90h10.97v11.19h-10.97zM610.41 353.90h10.97v11.19h-10.97zM622.28 353.90h10.97v11.19h-10.97zM634.15 353.90h10.97v11.19h-10.97zM646.02 353.90h10.97v11.19h-10.97zM657.89 353.90h10.97v11.19h-10.97zM100.00 365.99h10.97v11.19h-10.97zM111.87 365.99h10.97v11.19h-10.97zM123.74 365.99h10.97v11.19h-10.97zM135.61 365.99h10.97v11.19h-10.97zM147.48 365.99h10.97v11.19h-10.97zM159.35 365.99h10.97v11.19h-10.97zM171.22 365.99h10.97v11.19h-10.97zM183.09 365.99h10.97v11.19h-10.97zM194.96 365.99h10.97v11.19h-10.97zM206.83 365.99h10.97v11.19h-10.97zM218.70 365.99h10.97v11.19h-10.97zM230.57 365.99h10.97v11.19h-10.97zM242.44 365.99h10.97v11.19h-10.97zM254.31 365.99h10.97v11.19h-10.97zM266.18 365.99h10.97v11.19h-10.97zM278.05 365.99h10.97v11.19h-10.97zM289.92 365.99h10.97v11.19h-10.97zM301.79 365.99h10.97v11.19h-10.97zM313.66 365.99h10.97v11.19h-10.97zM325.53 365.99h10.97v11.19h-10.97zM337.40 365.99h10.97v11.19h-10.97zM349.27 365.99h10.97v11.19h-10.97zM361.14 365.99h10.97v11.19h-10.97zM373.01 365.99h10.97v11.19h-10.97zM384.88 365.99h10.97v11.19h-10.97zM396.75 365.99h10.97v11.19h-10.97zM408.62 365.99h10.97v11.19h-10.97zM420.49 365.99h10.97v11.19h-10.97zM432.36 365.99h10.97v11.19h-10.97zM444.23 365.99h10.97v11.19h-10.97zM456.10 365.99h10.97v11.19h-10.97zM479.84 365.99h10.97v11.19h-10.97zM491.71 365.99h10.97v11.19h-10.97zM503.58 365.99h10.97v11.19h-10.97zM515.45 365.99h10.97v11.19h-10.97zM527.32 365.99h10.97v11.19h-10.97zM539.19 365.99h10.97v11.19h-10.97zM551.06 365.99h10.97v11.19h-10.97zM562.93 365.99h10.97v11.19h-10.97zM574.80 365.99h10.97v11.19h-10.97zM586.67 365.99h10.97v11.19h-10.97zM598.54 365.99h10.97v11.19h-10.97zM610.41 365.99h10.97v11.19h-10.97zM622.28 365.99h10.97v11.19h-10.97zM634.15 365.99h10.97v11.19h-10.97zM646.02 365.99h10.97v11.19h-10.97zM657.89 365.99h10.97v11.19h-10.97zM100.00 378.08h10.97v11.19h-10.97zM111.87 378.08h10.97v11.19h-10.97zM123.74 378.08h10.97v11.19h-10.97zM135.61 378.08h10.97v11.19h-10.97zM147.48 378.08h10.97v11.19h-10.97zM159.35 378.08h10.97v11.19h-10.97zM171.22 378.08h10.97v11.19h-10.97zM183.09 378.08h10.97v11.19h-10.97zM194.96 378.08h10.97v11.19h-10.97zM206.83 378.08h10.97v11.19h-10.97zM218.70 378.08h10.97v11.19h-10.97zM230.57 378.08h10.97v11.19h-10.97zM242.44 378.08h10.97v11.19h-10.97zM254.31 378.08h10.97v11.19h-10.97zM266.18 378.08h10.97v11.19h-10.97zM278.05 378.08h10.97v11.19h-10.97zM289.92 378.08h10.97v11.19h-10.97zM301.79 378.08h10.97v11.19h-10.97zM313.66 378.08h10.97v11.19h-10.97zM325.53 378.08h10.97v11.19h-10.97zM337.40 378.08h10.97v11.19h-10.97zM349.27 378.08h10.97v11.19h-10.97zM361.14 378.08h10.97v11.19h-10.97zM373.01 378.08h10.97v11.19h-10.97zM384.88 378.08h10.97v11.19h-10.97zM396.75 378.08h10.97v11.19h-10.97zM408.62 378.08h10.97v11.19h-10.97zM444.23 378.08h10.97v11.19h-10.97zM456.10 378.08h10.97v11.19h-10.97zM467.97 378.08h10.97v11.19h-10.97zM479.84 378.08h10.97v11.19h-10.97zM491.71 378.08h10.97v11.19h-10.97zM503.58 378.08h10.97v11.19h-10.97zM515.45 378.08h10.97v11.19h-10.97zM527.32 378.08h10.97v11.19h-10.97zM539.19 378.08h10.97v11.19h-10.97zM551.06 378.08h10.97v11.19h-10.97zM562.93 378.08h10.97v11.19h-10.97zM574.80 378.08h10.97v11.19h-10.97zM586.67 378.08h10.97v11.19h-10.97zM598.54 378.08h10.97v11.19h-10.97zM610.41 378.08h10.97v11.19h-10.97zM622.28 378.08h10.97v11.19h-10.97zM634.15 378.08h10.97v11.19h-10.97zM646.02 378.08h10.97v11.19h-10.97zM657.89 378.08h10.97v11.19h-10.97zM100.00 390.17h10.97v11.19h-10.97zM111.87 390.17h10.97v11.19h-10.97zM123.74 390.17h10.97v11.19h-10.97zM135.61 390.17h10.97v11.19h-10.97zM147.48 390.17h10.97v11.19h-10.97zM159.35 390.17h10.97v11.19h-10.97zM171.22 390.17h10.97v11.19h-10.97zM254.31 390.17h10.97v11.19h-10.97zM266.18 390.17h10.97v11.19h-10.97zM278.05 390.17h10.97v11.19h-10.97zM289.92 390.17h10.97v11.19h-10.97zM301.79 390.17h10.97v11.19h-10.97zM313.66 390.17h10.97v11.19h-10.97zM325.53 390.17h10.97v11.19h-10.97zM337.40 390.17h10.97v11.19h-10.97zM349.27 390.17h10.97v11.19h-10.97zM361.14 390.17h10.97v11.19h-10.97zM373.01 390.17h10.97v11.19h-10.97zM384.88 390.17h10.97v11.19h-10.97zM396.75 390.17h10.97v11.19h-10.97zM408.62 390.17h10.97v11.19h-10.97zM420.49 390.17h10.97v11.19h-10.97zM444.23 390.17h10.97v11.19h-10.97zM456.10 390.17h10.97v11.19h-10.97zM467.97 390.17h10.97v11.19h-10.97zM479.84 390.17h10.97v11.19h-10.97zM491.71 390.17h10.97v11.19h-10.97zM503.58 390.17h10.97v11.19h-10.97zM515.45 390.17h10.97v11.19h-10.97zM527.32 390.17h10.97v11.19h-10.97zM562.93 390.17h10.97v11.19h-10.97zM574.80 390.17h10.97v11.19h-10.97zM586.67 390.17h10.97v11.19h-10.97zM598.54 390.17h10.97v11.19h-10.97zM610.41 390.17h10.97v11.19h-10.97zM622.28 390.17h10.97v11.19h-10.97zM634.15 390.17h10.97v11.19h-10.97zM646.02 390.17h10.97v11.19h-10.97zM657.89 390.17h10.97v11.19h-10.97zM100.00 402.26h10.97v11.19h-10.97zM111.87 402.26h10.97v11.19h-10.97zM123.74 402.26h10.97v11.19h-10.97zM135.61 402.26h10.97v11.19h-10.97zM147.48 402.26h10.97v11.19h-10.97zM159.35 402.26h10.97v11.19h-10.97zM171.22 402.26h10.97v11.19h-10.97zM183.09 402.26h10.97v11.19h-10.97zM194.96 402.26h10.97v11.19h-10.97zM206.83 402.26h10.97v11.19h-10.97zM218.70 402.26h10.97v11.19h-10.97zM230.57 402.26h10.97v11.19h-10.97zM242.44 402.26h10.97v11.19h-10.97zM254.31 402.26h10.97v11.19h-10.97zM266.18 402.26h10.97v11.19h-10.97zM278.05 402.26h10.97v11.19h-10.97zM289.92 402.26h10.97v11.19h-10.97zM301.79 402.26h10.97v11.19h-10.97zM313.66 402.26h10.97v11.19h-10.97zM325.53 402.26h10.97v11.19h-10.97zM337.40 402.26h10.97v11.19h-10.97zM349.27 402.26h10.97v11.19h-10.97zM361.14 402.26h10.97v11.19h-10.97zM373.01 402.26h10.97v11.19h-10.97zM384.88 402.26h10.97v11.19h-10.97zM396.75 402.26h10.97v11.19h-10.97zM408.62 402.26h10.97v11.19h-10.97zM420.49 402.26h10.97v11.19h-10.97zM432.36 402.26h10.97v11.19h-10.97zM444.23 402.26h10.97v11.19h-10.97zM467.97 402.26h10.97v11.19h-10.97zM479.84 402.26h10.97v11.19h-10.97zM491.71 402.26h10.97v11.19h-10.97zM503.58 402.26h10.97v11.19h-10.97zM515.45 402.26h10.97v11.19h-10.97zM527.32 402.26h10.97v11.19h-10.97zM539.19 402.26h10.97v11.19h-10.97zM551.06 402.26h10.97v11.19h-10.97zM562.93 402.26h10.97v11.19h-10.97zM574.80 402.26h10.97v11.19h-10.97zM111.87 414.35h10.97v11.19h-10.97zM123.74 414.35h10.97v11.19h-10.97zM135.61 414.35h10.97v11.19h-10.97zM147.48 414.35h10.97v11.19h-10.97zM159.35 414.35h10.97v11.19h-10.97zM171.22 414.35h10.97v11.19h-10.97zM183.09 414.35h10.97v11.19h-10.97zM194.96 414.35h10.97v11.19h-10.97zM206.83 414.35h10.97v11.19h-10.97zM218.70 414.35h10.97v11.19h-10.97zM230.57 414.35h10.97v11.19h-10.97zM242.44 414.35h10.97v11.19h-10.97zM254.31 414.35h10.97v11.19h-10.97zM266.18 414.35h10.97v11.19h-10.97zM278.05 414.35h10.97v11.19h-10.97zM289.92 414.35h10.97v11.19h-10.97zM301.79 414.35h10.97v11.19h-10.97zM313.66 414.35h10.97v11.19h-10.97zM325.53 414.35h10.97v11.19h-10.97zM337.40 414.35h10.97v11.19h-10.97zM349.27 414.35h10.97v11.19h-10.97zM361.14 414.35h10.97v11.19h-10.97zM373.01 414.35h10.97v11.19h-10.97zM384.88 414.35h10.97v11.19h-10.97zM396.75 414.35h10.97v11.19h-10.97zM408.62 414.35h10.97v11.19h-10.97zM420.49 414.35h10.97v11.19h-10.97zM432.36 414.35h10.97v11.19h-10.97zM444.23 414.35h10.97v11.19h-10.97zM467.97 414.35h10.97v11.19h-10.97zM479.84 414.35h10.97v11.19h-10.97zM562.93 414.35h10.97v11.19h-10.97zM574.80 414.35h10.97v11.19h-10.97zM586.67 414.35h10.97v11.19h-10.97zM598.54 414.35h10.97v11.19h-10.97zM634.15 414.35h10.97v11.19h-10.97zM646.02 414.35h10.97v11.19h-10.97zM657.89 414.35h10.97v11.19h-10.97zM100.00 426.44h10.97v11.19h-10.97zM111.87 426.44h10.97v11.19h-10.97zM123.74 426.44h10.97v11.19h-10.97zM135.61 426.44h10.97v11.19h-10.97zM147.48 426.44h10.97v11.19h-10.97zM159.35 426.44h10.97v11.19h-10.97zM171.22 426.44h10.97v11.19h-10.97zM183.09 426.44h10.97v11.19h-10.97zM194.96 426.44h10.97v11.19h-10.97zM206.83 426.44h10.97v11.19h-10.97zM218.70 426.44h10.97v11.19h-10.97zM230.57 426.44h10.97v11.19h-10.97zM242.44 426.44h10.97v11.19h-10.97zM254.31 426.44h10.97v11.19h-10.97zM266.18 426.44h10.97v11.19h-10.97zM278.05 426.44h10.97v11.19h-10.97zM289.92 426.44h10.97v11.19h-10.97zM301.79 426.44h10.97v11.19h-10.97zM313.66 426.44h10.97v11.19h-10.97zM325.53 426.44h10.97v11.19h-10.97zM337.40 426.44h10.97v11.19h-10.97zM349.27 426.44h10.97v11.19h-10.97zM361.14 426.44h10.97v11.19h-10.97zM373.01 426.44h10.97v11.19h-10.97zM384.88 426.44h10.97v11.19h-10.97zM396.75 426.44h10.97v11.19h-10.97zM408.62 426.44h10.97v11.19h-10.97zM420.49 426.44h10.97v11.19h-10.97zM432.36 426.44h10.97v11.19h-10.97zM444.23 426.44h10.97v11.19h-10.97zM456.10 426.44h10.97v11.19h-10.97zM467.97 426.44h10.97v11.19h-10.97zM479.84 426.44h10.97v11.19h-10.97zM491.71 426.44h10.97v11.19h-10.97zM503.58 426.44h10.97v11.19h-10.97zM515.45 426.44h10.97v11.19h-10.97zM527.32 426.44h10.97v11.19h-10.97zM539.19 426.44h10.97v11.19h-10.97zM551.06 426.44h10.97v11.19h-10.97zM610.41 426.44h10.97v11.19h-10.97zM622.28 426.44h10.97v11.19h-10.97zM634.15 426.44h10.97v11.19h-10.97zM646.02 426.44h10.97v11.19h-10.97zM657.89 426.44h10.97v11.19h-10.97zM100.00 438.53h10.97v11.19h-10.97zM111.87 438.53h10.97v11.19h-10.97zM123.74 438.53h10.97v11.19h-10.97zM135.61 438.53h10.97v11.19h-10.97zM147.48 438.53h10.97v11.19h-10.97zM159.35 438.53h10.97v11.19h-10.97zM171.22 438.53h10.97v11.19h-10.97zM183.09 438.53h10.97v11.19h-10.97zM194.96 438.53h10.97v11.19h-10.97zM206.83 438.53h10.97v11.19h-10.97zM218.70 438.53h10.97v11.19h-10.97zM230.57 438.53h10.97v11.19h-10.97zM242.44 438.53h10.97v11.19h-10.97zM254.31 438.53h10.97v11.19h-10.97zM266.18 438.53h10.97v11.19h-10.97zM278.05 438.53h10.97v11.19h-10.97zM289.92 438.53h10.97v11.19h-10.97zM337.40 438.53h10.97v11.19h-10.97zM349.27 438.53h10.97v11.19h-10.97zM361.14 438.53h10.97v11.19h-10.97zM373.01 438.53h10.97v11.19h-10.97zM384.88 438.53h10.97v11.19h-10.97zM396.75 438.53h10.97v11.19h-10.97zM408.62 438.53h10.97v11.19h-10.97zM420.49 438.53h10.97v11.19h-10.97zM432.36 438.53h10.97v11.19h-10.97zM444.23 438.53h10.97v11.19h-10.97zM467.97 438.53h10.97v11.19h-10.97zM479.84 438.53h10.97v11.19h-10.97zM491.71 438.53h10.97v11.19h-10.97zM503.58 438.53h10.97v11.19h-10.97zM515.45 438.53h10.97v11.19h-10.97zM527.32 438.53h10.97v11.19h-10.97zM539.19 438.53h10.97v11.19h-10.97zM562.93 438.53h10.97v11.19h-10.97zM574.80 438.53h10.97v11.19h-10.97zM586.67 438.53h10.97v11.19h-10.97zM598.54 438.53h10.97v11.19h-10.97zM610.41 438.53h10.97v11.19h-10.97zM622.28 438.53h10.97v11.19h-10.97zM634.15 438.53h10.97v11.19h-10.97zM646.02 438.53h10.97v11.19h-10.97zM657.89 438.53h10.97v11.19h-10.97zM100.00 450.62h10.97v11.19h-10.97zM111.87 450.62h10.97v11.19h-10.97zM123.74 450.62h10.97v11.19h-10.97zM135.61 450.62h10.97v11.19h-10.97zM147.48 450.62h10.97v11.19h-10.97zM159.35 450.62h10.97v11.19h-10.97zM171.22 450.62h10.97v11.19h-10.97zM183.09 450.62h10.97v11.19h-10.97zM194.96 450.62h10.97v11.19h-10.97zM206.83 450.62h10.97v11.19h-10.97zM218.70 450.62h10.97v11.19h-10.97zM230.57 450.62h10.97v11.19h-10.97zM242.44 450.62h10.97v11.19h-10.97zM254.31 450.62h10.97v11.19h-10.97zM266.18 450.62h10.97v11.19h-10.97zM278.05 450.62h10.97v11.19h-10.97zM289.92 450.62h10.97v11.19h-10.97zM301.79 450.62h10.97v11.19h-10.97zM313.66 450.62h10.97v11.19h-10.97zM325.53 450.62h10.97v11.19h-10.97zM373.01 450.62h10.97v11.19h-10.97zM384.88 450.62h10.97v11.19h-10.97zM396.75 450.62h10.97v11.19h-10.97zM408.62 450.62h10.97v11.19h-10.97zM420.49 450.62h10.97v11.19h-10.97zM432.36 450.62h10.97v11.19h-10.97zM444.23 450.62h10.97v11.19h-10.97zM467.97 450.62h10.97v11.19h-10.97zM479.84 450.62h10.97v11.19h-10.97zM491.71 450.62h10.97v11.19h-10.97zM503.58 450.62h10.97v11.19h-10.97zM515.45 450.62h10.97v11.19h-10.97zM527.32 450.62h10.97v11.19h-10.97zM539.19 450.62h10.97v11.19h-10.97zM551.06 450.62h10.97v11.19h-10.97zM562.93 450.62h10.97v11.19h-10.97zM574.80 450.62h10.97v11.19h-10.97zM586.67 450.62h10.97v11.19h-10.97zM598.54 450.62h10.97v11.19h-10.97zM610.41 450.62h10.97v11.19h-10.97zM622.28 450.62h10.97v11.19h-10.97zM634.15 450.62h10.97v11.19h-10.97zM646.02 450.62h10.97v11.19h-10.97zM657.89 450.62h10.97v11.19h-10.97zM100.00 462.71h10.97v11.19h-10.97zM111.87 462.71h10.97v11.19h-10.97zM123.74 462.71h10.97v11.19h-10.97zM135.61 462.71h10.97v11.19h-10.97zM147.48 462.71h10.97v11.19h-10.97zM159.35 462.71h10.97v11.19h-10.97zM171.22 462.71h10.97v11.19h-10.97zM183.09 462.71h10.97v11.19h-10.97zM194.96 462.71h10.97v11.19h-10.97zM206.83 462.71h10.97v11.19h-10.97zM218.70 462.71h10.97v11.19h-10.97zM230.57 462.71h10.97v11.19h-10.97zM242.44 462.71h10.97v11.19h-10.97zM301.79 462.71h10.97v11.19h-10.97zM313.66 462.71h10.97v11.19h-10.97zM325.53 462.71h10.97v11.19h-10.97zM337.40 462.71h10.97v11.19h-10.97zM349.27 462.71h10.97v11.19h-10.97zM361.14 462.71h10.97v11.19h-10.97zM373.01 462.71h10.97v11.19h-10.97zM384.88 462.71h10.97v11.19h-10.97zM396.75 462.71h10.97v11.19h-10.97zM408.62 462.71h10.97v11.19h-10.97zM420.49 462.71h10.97v11.19h-10.97zM432.36 462.71h10.97v11.19h-10.97zM444.23 462.71h10.97v11.19h-10.97zM467.97 462.71h10.97v11.19h-10.97zM479.84 462.71h10.97v11.19h-10.97zM491.71 462.71h10.97v11.19h-10.97zM503.58 462.71h10.97v11.19h-10.97zM515.45 462.71h10.97v11.19h-10.97zM527.32 462.71h10.97v11.19h-10.97zM539.19 462.71h10.97v11.19h-10.97zM551.06 462.71h10.97v11.19h-10.97zM562.93 462.71h10.97v11.19h-10.97zM574.80 462.71h10.97v11.19h-10.97zM586.67 462.71h10.97v11.19h-10.97zM598.54 462.71h10.97v11.19h-10.97zM610.41 462.71h10.97v11.19h-10.97zM622.28 462.71h10.97v11.19h-10.97zM634.15 462.71h10.97v11.19h-10.97zM646.02 462.71h10.97v11.19h-10.97zM657.89 462.71h10.97v11.19h-10.97zM100.00 474.80h10.97v11.19h-10.97zM111.87 474.80h10.97v11.19h-10.97zM123.74 474.80h10.97v11.19h-10.97zM135.61 474.80h10.97v11.19h-10.97zM147.48 474.80h10.97v11.19h-10.97zM159.35 474.80h10.97v11.19h-10.97zM171.22 474.80h10.97v11.19h-10.97zM183.09 474.80h10.97v11.19h-10.97zM194.96 474.80h10.97v11.19h-10.97zM206.83 474.80h10.97v11.19h-10.97zM218.70 474.80h10.97v11.19h-10.97zM230.57 474.80h10.97v11.19h-10.97zM242.44 474.80h10.97v11.19h-10.97zM266.18 474.80h10.97v11.19h-10.97zM278.05 474.80h10.97v11.19h-10.97zM289.92 474.80h10.97v11.19h-10.97zM301.79 474.80h10.97v11.19h-10.97zM313.66 474.80h10.97v11.19h-10.97zM325.53 474.80h10.97v11.19h-10.97zM337.40 474.80h10.97v11.19h-10.97zM349.27 474.80h10.97v11.19h-10.97zM361.14 474.80h10.97v11.19h-10.97zM373.01 474.80h10.97v11.19h-10.97zM384.88 474.80h10.97v11.19h-10.97zM396.75 474.80h10.97v11.19h-10.97zM408.62 474.80h10.97v11.19h-10.97zM420.49 474.80h10.97v11.19h-10.97zM432.36 474.80h10.97v11.19h-10.97zM444.23 474.80h10.97v11.19h-10.97zM467.97 474.80h10.97v11.19h-10.97zM479.84 474.80h10.97v11.19h-10.97zM491.71 474.80h10.97v11.19h-10.97zM503.58 474.80h10.97v11.19h-10.97zM515.45 474.80h10.97v11.19h-10.97zM527.32 474.80h10.97v11.19h-10.97zM539.19 474.80h10.97v11.19h-10.97zM551.06 474.80h10.97v11.19h-10.97zM562.93 474.80h10.97v11.19h-10.97zM574.80 474.80h10.97v11.19h-10.97zM586.67 474.80h10.97v11.19h-10.97zM598.54 474.80h10.97v11.19h-10.97zM610.41 474.80h10.97v11.19h-10.97zM622.28 474.80h10.97v11.19h-10.97zM634.15 474.80h10.97v11.19h-10.97zM646.02 474.80h10.97v11.19h-10.97zM657.89 474.80h10.97v11.19h-10.97zM100.00 486.89h10.97v11.19h-10.97zM111.87 486.89h10.97v11.19h-10.97zM123.74 486.89h10.97v11.19h-10.97zM135.61 486.89h10.97v11.19h-10.97zM147.48 486.89h10.97v11.19h-10.97zM159.35 486.89h10.97v11.19h-10.97zM171.22 486.89h10.97v11.19h-10.97zM183.09 486.89h10.97v11.19h-10.97zM194.96 486.89h10.97v11.19h-10.97zM206.83 486.89h10.97v11.19h-10.97zM218.70 486.89h10.97v11.19h-10.97zM230.57 486.89h10.97v11.19h-10.97zM242.44 486.89h10.97v11.19h-10.97zM254.31 486.89h10.97v11.19h-10.97zM266.18 486.89h10.97v11.19h-10.97zM278.05 486.89h10.97v11.19h-10.97zM289.92 486.89h10.97v11.19h-10.97zM301.79 486.89h10.97v11.19h-10.97zM313.66 486.89h10.97v11.19h-10.97zM325.53 486.89h10.97v11.19h-10.97zM337.40 486.89h10.97v11.19h-10.97zM349.27 486.89h10.97v11.19h-10.97zM361.14 486.89h10.97v11.19h-10.97zM373.01 486.89h10.97v11.19h-10.97zM384.88 486.89h10.97v11.19h-10.97zM396.75 486.89h10.97v11.19h-10.97zM408.62 486.89h10.97v11.19h-10.97zM420.49 486.89h10.97v11.19h-10.97zM432.36 486.89h10.97v11.19h-10.97zM467.97 486.89h10.97v11.19h-10.97zM479.84 486.89h10.97v11.19h-10.97zM491.71 486.89h10.97v11.19h-10.97zM503.58 486.89h10.97v11.19h-10.97zM515.45 486.89h10.97v11.19h-10.97zM527.32 486.89h10.97v11.19h-10.97zM539.19 486.89h10.97v11.19h-10.97zM551.06 486.89h10.97v11.19h-10.97zM562.93 486.89h10.97v11.19h-10.97zM574.80 486.89h10.97v11.19h-10.97zM586.67 486.89h10.97v11.19h-10.97zM598.54 486.89h10.97v11.19h-10.97zM610.41 486.89h10.97v11.19h-10.97zM622.28 486.89h10.97v11.19h-10.97zM634.15 486.89h10.97v11.19h-10.97zM646.02 486.89h10.97v11.19h-10.97zM657.89 486.89h10.97v11.19h-10.97zM100.00 498.98h10.97v11.19h-10.97zM111.87 498.98h10.97v11.19h-10.97zM123.74 498.98h10.97v11.19h-10.97zM135.61 498.98h10.97v11.19h-10.97zM147.48 498.98h10.97v11.19h-10.97zM159.35 498.98h10.97v11.19h-10.97zM171.22 498.98h10.97v11.19h-10.97zM183.09 498.98h10.97v11.19h-10.97zM194.96 498.98h10.97v11.19h-10.97zM206.83 498.98h10.97v11.19h-10.97zM218.70 498.98h10.97v11.19h-10.97zM230.57 498.98h10.97v11.19h-10.97zM242.44 498.98h10.97v11.19h-10.97zM254.31 498.98h10.97v11.19h-10.97zM266.18 498.98h10.97v11.19h-10.97zM278.05 498.98h10.97v11.19h-10.97zM289.92 498.98h10.97v11.19h-10.97zM301.79 498.98h10.97v11.19h-10.97zM313.66 498.98h10.97v11.19h-10.97zM325.53 498.98h10.97v11.19h-10.97zM349.27 498.98h10.97v11.19h-10.97zM361.14 498.98h10.97v11.19h-10.97zM373.01 498.98h10.97v11.19h-10.97zM384.88 498.98h10.97v11.19h-10.97zM396.75 498.98h10.97v11.19h-10.97zM408.62 498.98h10.97v11.19h-10.97zM420.49 498.98h10.97v11.19h-10.97zM432.36 498.98h10.97v11.19h-10.97zM444.23 498.98h10.97v11.19h-10.97zM456.10 498.98h10.97v11.19h-10.97zM467.97 498.98h10.97v11.19h-10.97zM491.71 498.98h10.97v11.19h-10.97zM503.58 498.98h10.97v11.19h-10.97zM515.45 498.98h10.97v11.19h-10.97zM527.32 498.98h10.97v11.19h-10.97zM539.19 498.98h10.97v11.19h-10.97zM551.06 498.98h10.97v11.19h-10.97zM562.93 498.98h10.97v11.19h-10.97zM574.80 498.98h10.97v11.19h-10.97zM586.67 498.98h10.97v11.19h-10.97zM598.54 498.98h10.97v11.19h-10.97zM610.41 498.98h10.97v11.19h-10.97zM622.28 498.98h10.97v11.19h-10.97zM634.15 498.98h10.97v11.19h-10.97zM646.02 498.98h10.97v11.19h-10.97zM657.89 498.98h10.97v11.19h-10.97zM100.00 511.07h10.97v11.19h-10.97zM111.87 511.07h10.97v11.19h-10.97zM123.74 511.07h10.97v11.19h-10.97zM135.61 511.07h10.97v11.19h-10.97zM147.48 511.07h10.97v11.19h-10.97zM159.35 511.07h10.97v11.19h-10.97zM171.22 511.07h10.97v11.19h-10.97zM183.09 511.07h10.97v11.19h-10.97zM194.96 511.07h10.97v11.19h-10.97zM206.83 511.07h10.97v11.19h-10.97zM218.70 511.07h10.97v11.19h-10.97zM230.57 511.07h10.97v11.19h-10.97zM242.44 511.07h10.97v11.19h-10.97zM254.31 511.07h10.97v11.19h-10.97zM266.18 511.07h10.97v11.19h-10.97zM278.05 511.07h10.97v11.19h-10.97zM289.92 511.07h10.97v11.19h-10.97zM301.79 511.07h10.97v11.19h-10.97zM313.66 511.07h10.97v11.19h-10.97zM325.53 511.07h10.97v11.19h-10.97zM337.40 511.07h10.97v11.19h-10.97zM349.27 511.07h10.97v11.19h-10.97zM361.14 511.07h10.97v11.19h-10.97zM373.01 511.07h10.97v11.19h-10.97zM384.88 511.07h10.97v11.19h-10.97zM396.75 511.07h10.97v11.19h-10.97zM408.62 511.07h10.97v11.19h-10.97zM420.49 511.07h10.97v11.19h-10.97zM432.36 511.07h10.97v11.19h-10.97zM444.23 511.07h10.97v11.19h-10.97zM456.10 511.07h10.97v11.19h-10.97zM467.97 511.07h10.97v11.19h-10.97zM491.71 511.07h10.97v11.19h-10.97zM503.58 511.07h10.97v11.19h-10.97zM515.45 511.07h10.97v11.19h-10.97zM527.32 511.07h10.97v11.19h-10.97zM539.19 511.07h10.97v11.19h-10.97zM551.06 511.07h10.97v11.19h-10.97zM562.93 511.07h10.97v11.19h-10.97zM574.80 511.07h10.97v11.19h-10.97zM586.67 511.07h10.97v11.19h-10.97zM598.54 511.07h10.97v11.19h-10.97zM610.41 511.07h10.97v11.19h-10.97zM622.28 511.07h10.97v11.19h-10.97zM634.15 511.07h10.97v11.19h-10.97zM646.02 511.07h10.97v11.19h-10.97zM657.89 511.07h10.97v11.19h-10.97zM100.00 523.16h10.97v11.19h-10.97zM111.87 523.16h10.97v11.19h-10.97zM123.74 523.16h10.97v11.19h-10.97zM135.61 523.16h10.97v11.19h-10.97zM147.48 523.16h10.97v11.19h-10.97zM159.35 523.16h10.97v11.19h-10.97zM171.22 523.16h10.97v11.19h-10.97zM183.09 523.16h10.97v11.19h-10.97zM194.96 523.16h10.97v11.19h-10.97zM206.83 523.16h10.97v11.19h-10.97zM218.70 523.16h10.97v11.19h-10.97zM230.57 523.16h10.97v11.19h-10.97zM242.44 523.16h10.97v11.19h-10.97zM254.31 523.16h10.97v11.19h-10.97zM266.18 523.16h10.97v11.19h-10.97zM278.05 523.16h10.97v11.19h-10.97zM289.92 523.16h10.97v11.19h-10.97zM301.79 523.16h10.97v11.19h-10.97zM313.66 523.16h10.97v11.19h-10.97zM325.53 523.16h10.97v11.19h-10.97zM337.40 523.16h10.97v11.19h-10.97zM349.27 523.16h10.97v11.19h-10.97zM361.14 523.16h10.97v11.19h-10.97zM373.01 523.16h10.97v11.19h-10.97zM384.88 523.16h10.97v11.19h-10.97zM420.49 523.16h10.97v11.19h-10.97zM432.36 523.16h10.97v11.19h-10.97zM444.23 523.16h10.97v11.19h-10.97zM456.10 523.16h10.97v11.19h-10.97zM467.97 523.16h10.97v11.19h-10.97zM479.84 523.16h10.97v11.19h-10.97zM491.71 523.16h10.97v11.19h-10.97zM503.58 523.16h10.97v11.19h-10.97zM515.45 523.16h10.97v11.19h-10.97zM527.32 523.16h10.97v11.19h-10.97zM539.19 523.16h10.97v11.19h-10.97zM551.06 523.16h10.97v11.19h-10.97zM562.93 523.16h10.97v11.19h-10.97zM574.80 523.16h10.97v11.19h-10.97zM586.67 523.16h10.97v11.19h-10.97zM598.54 523.16h10.97v11.19h-10.97zM610.41 523.16h10.97v11.19h-10.97zM622.28 523.16h10.97v11.19h-10.97zM634.15 523.16h10.97v11.19h-10.97zM646.02 523.16h10.97v11.19h-10.97zM657.89 523.16h10.97v11.19h-10.97zM100.00 535.25h10.97v11.19h-10.97zM111.87 535.25h10.97v11.19h-10.97zM123.74 535.25h10.97v11.19h-10.97zM135.61 535.25h10.97v11.19h-10.97zM147.48 535.25h10.97v11.19h-10.97zM159.35 535.25h10.97v11.19h-10.97zM171.22 535.25h10.97v11.19h-10.97zM183.09 535.25h10.97v11.19h-10.97zM194.96 535.25h10.97v11.19h-10.97zM206.83 535.25h10.97v11.19h-10.97zM218.70 535.25h10.97v11.19h-10.97zM230.57 535.25h10.97v11.19h-10.97zM242.44 535.25h10.97v11.19h-10.97zM254.31 535.25h10.97v11.19h-10.97zM266.18 535.25h10.97v11.19h-10.97zM278.05 535.25h10.97v11.19h-10.97zM289.92 535.25h10.97v11.19h-10.97zM301.79 535.25h10.97v11.19h-10.97zM313.66 535.25h10.97v11.19h-10.97zM325.53 535.25h10.97v11.19h-10.97zM337.40 535.25h10.97v11.19h-10.97zM349.27 535.25h10.97v11.19h-10.97zM361.14 535.25h10.97v11.19h-10.97zM373.01 535.25h10.97v11.19h-10.97zM384.88 535.25h10.97v11.19h-10.97zM408.62 535.25h10.97v11.19h-10.97zM420.49 535.25h10.97v11.19h-10.97zM432.36 535.25h10.97v11.19h-10.97zM444.23 535.25h10.97v11.19h-10.97zM456.10 535.25h10.97v11.19h-10.97zM467.97 535.25h10.97v11.19h-10.97zM479.84 535.25h10.97v11.19h-10.97zM491.71 535.25h10.97v11.19h-10.97zM503.58 535.25h10.97v11.19h-10.97zM515.45 535.25h10.97v11.19h-10.97zM527.32 535.25h10.97v11.19h-10.97zM539.19 535.25h10.97v11.19h-10.97zM551.06 535.25h10.97v11.19h-10.97zM562.93 535.25h10.97v11.19h-10.97zM574.80 535.25h10.97v11.19h-10.97zM586.67 535.25h10.97v11.19h-10.97zM598.54 535.25h10.97v11.19h-10.97zM610.41 535.25h10.97v11.19h-10.97zM622.28 535.25h10.97v11.19h-10.97zM634.15 535.25h10.97v11.19h-10.97zM646.02 535.25h10.97v11.19h-10.97zM657.89 535.25h10.97v11.19h-10.97zM183.09 547.34h10.97v11.19h-10.97zM194.96 547.34h10.97v11.19h-10.97zM206.83 547.34h10.97v11.19h-10.97zM218.70 547.34h10.97v11.19h-10.97zM230.57 547.34h10.97v11.19h-10.97zM242.44 547.34h10.97v11.19h-10.97zM254.31 547.34h10.97v11.19h-10.97zM266.18 547.34h10.97v11.19h-10.97zM278.05 547.34h10.97v11.19h-10.97zM289.92 547.34h10.97v11.19h-10.97zM301.79 547.34h10.97v11.19h-10.97zM313.66 547.34h10.97v11.19h-10.97zM325.53 547.34h10.97v11.19h-10.97zM337.40 547.34h10.97v11.19h-10.97zM349.27 547.34h10.97v11.19h-10.97zM361.14 547.34h10.97v11.19h-10.97zM373.01 547.34h10.97v11.19h-10.97zM384.88 547.34h10.97v11.19h-10.97zM396.75 547.34h10.97v11.19h-10.97zM408.62 547.34h10.97v11.19h-10.97zM420.49 547.34h10.97v11.19h-10.97zM432.36 547.34h10.97v11.19h-10.97zM444.23 547.34h10.97v11.19h-10.97zM456.10 547.34h10.97v11.19h-10.97zM467.97 547.34h10.97v11.19h-10.97zM479.84 547.34h10.97v11.19h-10.97zM491.71 547.34h10.97v11.19h-10.97zM503.58 547.34h10.97v11.19h-10.97zM515.45 547.34h10.97v11.19h-10.97zM527.32 547.34h10.97v11.19h-10.97zM539.19 547.34h10.97v11.19h-10.97zM551.06 547.34h10.97v11.19h-10.97zM562.93 547.34h10.97v11.19h-10.97zM574.80 547.34h10.97v11.19h-10.97zM586.67 547.34h10.97v11.19h-10.97zM598.54 547.34h10.97v11.19h-10.97zM610.41 547.34h10.97v11.19h-10.97zM622.28 547.34h10.97v11.19h-10.97zM634.15 547.34h10.97v11.19h-10.97zM646.02 547.34h10.97v11.19h-10.97zM657.89 547.34h10.97v11.19h-10.97zM183.09 559.43h10.97v11.19h-10.97zM194.96 559.43h10.97v11.19h-10.97zM206.83 559.43h10.97v11.19h-10.97zM218.70 559.43h10.97v11.19h-10.97zM230.57 559.43h10.97v11.19h-10.97zM242.44 559.43h10.97v11.19h-10.97zM254.31 559.43h10.97v11.19h-10.97zM266.18 559.43h10.97v11.19h-10.97zM278.05 559.43h10.97v11.19h-10.97zM289.92 559.43h10.97v11.19h-10.97zM301.79 559.43h10.97v11.19h-10.97zM313.66 559.43h10.97v11.19h-10.97zM325.53 559.43h10.97v11.19h-10.97zM337.40 559.43h10.97v11.19h-10.97zM349.27 559.43h10.97v11.19h-10.97zM361.14 559.43h10.97v11.19h-10.97zM373.01 559.43h10.97v11.19h-10.97zM384.88 559.43h10.97v11.19h-10.97zM396.75 559.43h10.97v11.19h-10.97zM408.62 559.43h10.97v11.19h-10.97zM420.49 559.43h10.97v11.19h-10.97zM432.36 559.43h10.97v11.19h-10.97zM444.23 559.43h10.97v11.19h-10.97zM456.10 559.43h10.97v11.19h-10.97zM467.97 559.43h10.97v11.19h-10.97zM479.84 559.43h10.97v11.19h-10.97zM491.71 559.43h10.97v11.19h-10.97zM503.58 559.43h10.97v11.19h-10.97zM515.45 559.43h10.97v11.19h-10.97zM527.32 559.43h10.97v11.19h-10.97zM539.19 559.43h10.97v11.19h-10.97zM551.06 559.43h10.97v11.19h-10.97zM562.93 559.43h10.97v11.19h-10.97zM574.80 559.43h10.97v11.19h-10.97zM586.67 559.43h10.97v11.19h-10.97zM598.54 559.43h10.97v11.19h-10.97zM610.41 559.43h10.97v11.19h-10.97zM622.28 559.43h10.97v11.19h-10.97zM634.15 559.43h10.97v11.19h-10.97zM646.02 559.43h10.97v11.19h-10.97zM657.89 559.43h10.97v11.19h-10.97z" fill="#f5f5f5"/>
<rect x="373.01" y="353.90" width="10.97" height="11.19" fill="#f4d6e6"/>
<rect x="384.88" y="353.90" width="10.97" height="11.19" fill="#f4d6e6"/>
<rect x="467.97" y="365.99" width="10.97" height="11.19" fill="#f0bad6"/>
<rect x="420.49" y="378.08" width="10.97" height="11.19" fill="#e596c5"/>
<rect x="432.36" y="378.08" width="10.97" height="11.19" fill="#f0bad6"/>
<rect x="183.09" y="390.17" width="10.97" height="11.19" fill="#f4d6e6"/>
<rect x="194.96" y="390.17" width="10.97" height="11.19" fill="#f2c4dc"/>
<rect x="206.83" y="390.17" width="10.97" height="11.19" fill="#f6e0ec"/>
<rect x="218.70" y="390.17" width="10.97" height="11.19" fill="#f2c4dc"/>
<rect x="230.57" y="390.17" width="10.97" height="11.19" fill="#f2c4dc"/>
<rect x="242.44" y="390.17" width="10.97" height="11.19" fill="#f2c4dc"/>
<rect x="432.36" y="390.17" width="10.97" height="11.19" fill="#f7e3ee"/>
<rect x="539.19" y="390.17" width="10.97" height="11.19" fill="#ecadd0"/>
<rect x="551.06" y="390.17" width="10.97" height="11.19" fill="#f2c4dc"/>
<rect x="456.10" y="402.26" width="10.97" height="11.19" fill="#ecadd0"/>
<rect x="586.67" y="402.26" width="10.97" height="11.19" fill="#ecadd0"/>
<rect x="598.54" y="402.26" width="10.97" height="11.19" fill="#f6e0ec"/>
<rect x="610.41" y="402.26" width="10.97" height="11.19" fill="#f8e6f0"/>
<rect x="622.28" y="402.26" width="10.97" height="11.19" fill="#f4d6e6"/>
<rect x="634.15" y="402.26" width="10.97" height="11.19" fill="#eeb2d2"/>
<rect x="646.02" y="402.26" width="10.97" height="11.19" fill="#f3cde1"/>
<rect x="657.89" y="402.26" width="10.97" height="11.19" fill="#f4d3e4"/>
<rect x="100.00" y="414.35" width="10.97" height="11.19" fill="#f3cde1"/>
<rect x="456.10" y="414.35" width="10.97" height="11.19" fill="#eeb2d2"/>
<rect x="491.71" y="414.35" width="10.97" height="11.19" fill="#f3cde1"/>
<rect x="503.58" y="414.35" width="10.97" height="11.19" fill="#f3cde1"/>
<rect x="515.45" y="414.35" width="10.97" height="11.19" fill="#eeb2d2"/>
<rect x="527.32" y="414.35" width="10.97" height="11.19" fill="#e8a0ca"/>
<rect x="539.19" y="414.35" width="10.97" height="11.19" fill="#f8eaf1"/>
<rect x="551.06" y="414.35" width="10.97" height="11.19" fill="#f5dae9"/>
<rect x="610.41" y="414.35" width="10.97" height="11.19" fill="#f5dae9"/>
<rect x="622.28" y="414.35" width="10.97" height="11.19" fill="#f6e0ec"/>
<rect x="562.93" y="426.44" width="10.97" height="11.19" fill="#f3cde1"/>
<rect x="574.80" y="426.44" width="10.97" height="11.19" fill="#f3cde1"/>
<rect x="586.67" y="426.44" width="10.97" height="11.19" fill="#f3cde1"/>
<rect x="598.54" y="426.44" width="10.97" height="11.19" fill="#f3cde1"/>
<rect x="301.79" y="438.53" width="10.97" height="11.19" fill="#e596c5"/>
<rect x="313.66" y="438.53" width="10.97" height="11.19" fill="#f2c4dc"/>
<rect x="325.53" y="438.53" width="10.97" height="11.19" fill="#dd74b5"/>
<rect x="456.10" y="438.53" width="10.97" height="11.19" fill="#f4d3e4"/>
<rect x="551.06" y="438.53" width="10.97" height="11.19" fill="#dd74b5"/>
<rect x="337.40" y="450.62" width="10.97" height="11.19" fill="#e8a0ca"/>
<rect x="349.27" y="450.62" width="10.97" height="11.19" fill="#e8a0ca"/>
<rect x="361.14" y="450.62" width="10.97" height="11.19" fill="#f2c4dc"/>
<rect x="456.10" y="450.62" width="10.97" height="11.19" fill="#f4d3e4"/>
<rect x="254.31" y="462.71" width="10.97" height="11.19" fill="#f1bed8"/>
<rect x="266.18" y="462.71" width="10.97" height="11.19" fill="#c41e96"/>
<rect x="278.05" y="462.71" width="10.97" height="11.19" fill="#d252a4"/>
<rect x="289.92" y="462.71" width="10.97" height="11.19" fill="#d252a4"/>
<rect x="456.10" y="462.71" width="10.97" height="11.19" fill="#f4d3e4"/>
<rect x="254.31" y="474.80" width="10.97" height="11.19" fill="#f2c4dc"/>
<rect x="456.10" y="474.80" width="10.97" height="11.19" fill="#f6e0ec"/>
<rect x="444.23" y="486.89" width="10.97" height="11.19" fill="#e8a0ca"/>
<rect x="456.10" y="486.89" width="10.97" height="11.19" fill="#eeb2d2"/>
<rect x="337.40" y="498.98" width="10.97" height="11.19" fill="#f4d6e6"/>
<rect x="479.84" y="498.98" width="10.97" height="11.19" fill="#f2c4dc"/>
<rect x="479.84" y="511.07" width="10.97" height="11.19" fill="#f2c4dc"/>
<rect x="396.75" y="523.16" width="10.97" height="11.19" fill="#f8e8f0"/>
<rect x="408.62" y="523.16" width="10.97" height="11.19" fill="#ecadd0"/>
<rect x="396.75" y="535.25" width="10.97" height="11.19" fill="#ecadd0"/>
<rect x="100.00" y="547.34" width="10.97" height="11.19" fill="#f4d6e6"/>
<rect x="111.87" y="547.34" width="10.97" height="11.19" fill="#f4d6e6"/>
<rect x="123.74" y="547.34" width="10.97" height="11.19" fill="#f4d6e6"/>
<rect x="135.61" y="547.34" width="10.97" height="11.19" fill="#f4d6e6"/>
<rect x="147.48" y="547.34" width="10.97" height="11.19" fill="#f4d6e6"/>
<rect x="159.35" y="547.34" width="10.97" height="11.19" fill="#f3cde1"/>
<rect x="171.22" y="547.34" width="10.97" height="11.19" fill="#f4d6e6"/>
<rect x="100.00" y="559.43" width="10.97" height="11.19" fill="#f4d6e6"/>
<rect x="111.87" y="559.43" width="10.97" height="11.19" fill="#f4d6e6"/>
<rect x="123.74" y="559.43" width="10.97" height="11.19" fill="#f4d6e6"/>
<rect x="135.61" y="559.43" width="10.97" height="11.19" fill="#f4d6e6"/>
<rect x="147.48" y="559.43" width="10.97" height="11.19" fill="#f6e0ec"/>
<rect x="159.35" y="559.43" width="10.97" height="11.19" fill="#e080ba"/>
<rect x="171.22" y="559.43" width="10.97" height="11.19" fill="#f6e0ec"/>
<path d="M105.53 349.6V352.2M117.41 349.6V352.2M129.27 349.6V352.2M141.14 349.6V352.2M153.01 349.6V352.2M164.88 349.6V352.2M176.75 349.6V352.2M188.62 349.6V352.2M200.50 349.6V352.2M212.36 349.6V352.2M224.23 349.6V352.2M236.10 349.6V352.2M247.97 349.6V352.2M259.84 349.6V352.2M271.71 349.6V352.2M283.58 349.6V352.2M295.45 349.6V352.2M307.32 349.6V352.2M319.19 349.6V352.2M331.06 349.6V352.2M342.93 349.6V352.2M354.80 349.6V352.2M366.67 349.6V352.2M378.54 349.6V352.2M390.41 349.6V352.2M402.28 349.6V352.2M414.15 349.6V352.2M426.02 349.6V352.2M437.89 349.6V352.2M449.76 349.6V352.2M461.63 349.6V352.2M473.50 349.6V352.2M485.38 349.6V352.2M497.25 349.6V352.2M509.12 349.6V352.2M520.99 349.6V352.2M532.86 349.6V352.2M544.72 349.6V352.2M556.59 349.6V352.2M568.46 349.6V352.2M580.33 349.6V352.2M592.20 349.6V352.2M604.07 349.6V352.2M615.94 349.6V352.2M627.81 349.6V352.2M639.68 349.6V352.2M651.55 349.6V352.2M663.42 349.6V352.2M95.9 359.55H98.8M95.9 371.63H98.8M95.9 383.73H98.8M95.9 395.81H98.8M95.9 407.90H98.8M95.9 420.00H98.8M95.9 432.08H98.8M95.9 444.18H98.8M95.9 456.26H98.8M95.9 468.36H98.8M95.9 480.44H98.8M95.9 492.53H98.8M95.9 504.62H98.8M95.9 516.72H98.8M95.9 528.81H98.8M95.9 540.89H98.8M95.9 552.99H98.8M95.9 565.08H98.8" stroke="#c8c8c8" stroke-width="0.7" fill="none"/>
<text x="105.83" y="348.40" font-size="12.3" transform="rotate(-90 105.83 348.40)">Gpr55</text>
<text x="117.70" y="348.40" font-size="12.3" transform="rotate(-90 117.70 348.40)">S1pr4</text>
<text x="129.57" y="348.40" font-size="12.3" transform="rotate(-90 129.57 348.40)">S1pr2</text>
<text x="141.44" y="348.40" font-size="12.3" transform="rotate(-90 141.44 348.40)">Gpr18</text>
<text x="153.31" y="348.40" font-size="12.3" transform="rotate(-90 153.31 348.40)">Gabbr1</text>
<text x="165.19" y="348.40" font-size="12.3" transform="rotate(-90 165.19 348.40)">Cxcr3</text>
<text x="177.06" y="348.40" font-size="12.3" transform="rotate(-90 177.06 348.40)">Cxcr4</text>
<text x="188.93" y="348.40" font-size="12.3" transform="rotate(-90 188.93 348.40)">Il3ra</text>
<text x="200.80" y="348.40" font-size="12.3" transform="rotate(-90 200.80 348.40)">Il2rg</text>
<text x="212.66" y="348.40" font-size="12.3" transform="rotate(-90 212.66 348.40)">Il2rb</text>
<text x="224.53" y="348.40" font-size="12.3" transform="rotate(-90 224.53 348.40)">Csf2rb</text>
<text x="236.41" y="348.40" font-size="12.3" transform="rotate(-90 236.41 348.40)">Cd3g</text>
<text x="248.28" y="348.40" font-size="12.3" transform="rotate(-90 248.28 348.40)">Csf2ra</text>
<text x="260.14" y="348.40" font-size="12.3" transform="rotate(-90 260.14 348.40)">Traf2</text>
<text x="272.01" y="348.40" font-size="12.3" fill="#c8229b" transform="rotate(-90 272.01 348.40)">Tnfrsf17</text>
<text x="283.88" y="348.40" font-size="12.3" fill="#c8229b" transform="rotate(-90 283.88 348.40)">Tnfrsf13b</text>
<text x="295.75" y="348.40" font-size="12.3" fill="#c8229b" transform="rotate(-90 295.75 348.40)">Tnfrsf13c</text>
<text x="307.62" y="348.40" font-size="12.3" transform="rotate(-90 307.62 348.40)">Tlr2</text>
<text x="319.50" y="348.40" font-size="12.3" transform="rotate(-90 319.50 348.40)">Itgb5</text>
<text x="331.36" y="348.40" font-size="12.3" transform="rotate(-90 331.36 348.40)">Tgfbr1</text>
<text x="343.23" y="348.40" font-size="12.3" transform="rotate(-90 343.23 348.40)">Il6ra</text>
<text x="355.10" y="348.40" font-size="12.3" transform="rotate(-90 355.10 348.40)">Notch1</text>
<text x="366.97" y="348.40" font-size="12.3" transform="rotate(-90 366.97 348.40)">Ptch1</text>
<text x="378.84" y="348.40" font-size="12.3" transform="rotate(-90 378.84 348.40)">Anxa6</text>
<text x="390.71" y="348.40" font-size="12.3" transform="rotate(-90 390.71 348.40)">Cul5</text>
<text x="402.58" y="348.40" font-size="12.3" transform="rotate(-90 402.58 348.40)">Plxnb2</text>
<text x="414.45" y="348.40" font-size="12.3" transform="rotate(-90 414.45 348.40)">Ptprc</text>
<text x="426.32" y="348.40" font-size="12.3" transform="rotate(-90 426.32 348.40)">Nrp1</text>
<text x="438.19" y="348.40" font-size="12.3" transform="rotate(-90 438.19 348.40)">Ptk2b</text>
<text x="450.06" y="348.40" font-size="12.3" transform="rotate(-90 450.06 348.40)">Cd44</text>
<text x="461.94" y="348.40" font-size="12.3" transform="rotate(-90 461.94 348.40)">Itgb1</text>
<text x="473.81" y="348.40" font-size="12.3" transform="rotate(-90 473.81 348.40)">Adrb2</text>
<text x="485.68" y="348.40" font-size="12.3" transform="rotate(-90 485.68 348.40)">Il6st</text>
<text x="497.55" y="348.40" font-size="12.3" transform="rotate(-90 497.55 348.40)">Spn</text>
<text x="509.42" y="348.40" font-size="12.3" transform="rotate(-90 509.42 348.40)">Slc1a5</text>
<text x="521.28" y="348.40" font-size="12.3" transform="rotate(-90 521.28 348.40)">Fcgr2b</text>
<text x="533.15" y="348.40" font-size="12.3" transform="rotate(-90 533.15 348.40)">Nptn</text>
<text x="545.02" y="348.40" font-size="12.3" transform="rotate(-90 545.02 348.40)">Fcgr3</text>
<text x="556.89" y="348.40" font-size="12.3" transform="rotate(-90 556.89 348.40)">Tgfbr2</text>
<text x="568.76" y="348.40" font-size="12.3" transform="rotate(-90 568.76 348.40)">Icam1</text>
<text x="580.63" y="348.40" font-size="12.3" transform="rotate(-90 580.63 348.40)">Vcam1</text>
<text x="592.50" y="348.40" font-size="12.3" transform="rotate(-90 592.50 348.40)">Itga4</text>
<text x="604.37" y="348.40" font-size="12.3" transform="rotate(-90 604.37 348.40)">Rpsa</text>
<text x="616.24" y="348.40" font-size="12.3" transform="rotate(-90 616.24 348.40)">Fas</text>
<text x="628.11" y="348.40" font-size="12.3" transform="rotate(-90 628.11 348.40)">Tfrc</text>
<text x="639.98" y="348.40" font-size="12.3" transform="rotate(-90 639.98 348.40)">Itgb7</text>
<text x="651.85" y="348.40" font-size="12.3" transform="rotate(-90 651.85 348.40)">Igf2r</text>
<text x="663.72" y="348.40" font-size="12.3" transform="rotate(-90 663.72 348.40)">Itgb2</text>
<text x="94.50" y="363.85" font-size="12.1" text-anchor="end">Nampt</text>
<text x="94.50" y="375.94" font-size="12.1" text-anchor="end">Il1b</text>
<text x="94.50" y="388.03" font-size="12.1" text-anchor="end">Vegfa</text>
<text x="94.50" y="400.12" font-size="12.1" text-anchor="end">Pik3cb</text>
<text x="94.50" y="412.20" font-size="12.1" text-anchor="end">Vcam1</text>
<text x="94.50" y="424.30" font-size="12.1" text-anchor="end">Lgals3</text>
<text x="94.50" y="436.38" font-size="12.1" text-anchor="end">Rps19</text>
<text x="94.50" y="448.48" font-size="12.1" text-anchor="end">Tgfb1</text>
<text x="94.50" y="460.56" font-size="12.1" text-anchor="end">Adam17</text>
<text x="94.50" y="472.66" font-size="12.1" text-anchor="end" fill="#c8229b">Tnfsf13b</text>
<text x="94.50" y="484.75" font-size="12.1" text-anchor="end">Ltb</text>
<text x="94.50" y="496.83" font-size="12.1" text-anchor="end">Mmp9</text>
<text x="94.50" y="508.93" font-size="12.1" text-anchor="end">Il27</text>
<text x="94.50" y="521.01" font-size="12.1" text-anchor="end">Ebi3</text>
<text x="94.50" y="533.11" font-size="12.1" text-anchor="end">Sema4d</text>
<text x="94.50" y="545.19" font-size="12.1" text-anchor="end">H2.T23</text>
<text x="94.50" y="557.28" font-size="12.1" text-anchor="end">Ppbp</text>
<text x="94.50" y="569.38" font-size="12.1" text-anchor="end">Cxcl10</text>
<text x="300.50" y="293.90" font-size="16.3" font-weight="bold">Plasma cell receptors</text>
<text x="27.00" y="462.40" font-size="14.6" font-weight="bold" text-anchor="middle" textLength="128" lengthAdjust="spacingAndGlyphs" transform="rotate(-90 27.00 462.40)">Neutrophil ligands</text>
<text x="387.00" y="265.00" font-size="15.5">Prior interaction potential</text>
<defs><linearGradient id="lg" x1="0" x2="1" y1="0" y2="0"><stop offset="0" stop-color="#fdf5f9"/><stop offset="0.25" stop-color="#f2c5df"/><stop offset="0.5" stop-color="#e697c8"/><stop offset="0.75" stop-color="#d967b2"/><stop offset="1" stop-color="#c71e96"/></linearGradient><linearGradient id="eg" x1="0" x2="0" y1="0" y2="1"><stop offset="0" stop-color="#dc3011"/><stop offset="0.45" stop-color="#f0744f"/><stop offset="1" stop-color="#c0c0c0"/></linearGradient></defs>
<rect x="567.80" y="243.00" width="68.30" height="13.90" fill="url(#lg)"/>
<path d="M584.99 243V245.8M584.99 254.1V256.9M601.58 243V245.8M601.58 254.1V256.9M618.17 243V245.8M618.17 254.1V256.9" stroke="#fff" stroke-width="0.6" fill="none"/>
<text x="560.30" y="272.90" font-size="11.8" textLength="66.2" lengthAdjust="spacingAndGlyphs">0.00.30.60.9</text>
<path d="M43.4 468.8H33.1V745.3H52.5" stroke="#222" stroke-width="0.9" fill="none"/>
<path d="M51.8 741.9L58.6 745.3L51.8 748.7Z" fill="#000"/>
<rect x="10.00" y="596.00" width="671.60" height="274.20" fill="none" stroke="#111" stroke-width="1.8"/>
<text x="71.4" y="610.2" font-size="13.6" textLength="96.4" lengthAdjust="spacingAndGlyphs"><tspan font-style="italic">Tnfsf13b</tspan> 14 dpi</text>
<text x="71.4" y="745.8" font-size="13.6" textLength="91.8" lengthAdjust="spacingAndGlyphs"><tspan font-style="italic">Tnfsf13b</tspan> Naive</text>
<line x1="70.00" y1="616.80" x2="70.00" y2="705.20" stroke="#333" stroke-width="0.9"/>
<line x1="69.60" y1="705.20" x2="170.30" y2="705.20" stroke="#333" stroke-width="0.9"/>
<line x1="67.70" y1="628.30" x2="70.00" y2="628.30" stroke="#333" stroke-width="0.9"/>
<text x="65.60" y="631.30" font-size="8.4" text-anchor="end" fill="#222">10</text>
<line x1="67.70" y1="653.40" x2="70.00" y2="653.40" stroke="#333" stroke-width="0.9"/>
<text x="65.60" y="656.40" font-size="8.4" text-anchor="end" fill="#222">0</text>
<line x1="67.70" y1="678.50" x2="70.00" y2="678.50" stroke="#333" stroke-width="0.9"/>
<text x="65.60" y="681.50" font-size="8.4" text-anchor="end" fill="#222">−10</text>
<line x1="67.70" y1="703.60" x2="70.00" y2="703.60" stroke="#333" stroke-width="0.9"/>
<text x="65.60" y="706.60" font-size="8.4" text-anchor="end" fill="#222">−20</text>
<line x1="81.80" y1="705.20" x2="81.80" y2="707.50" stroke="#333" stroke-width="0.9"/>
<text x="81.80" y="716.00" font-size="8.4" text-anchor="middle" fill="#222">−10</text>
<line x1="99.30" y1="705.20" x2="99.30" y2="707.50" stroke="#333" stroke-width="0.9"/>
<text x="99.30" y="716.00" font-size="8.4" text-anchor="middle" fill="#222">−5</text>
<line x1="116.80" y1="705.20" x2="116.80" y2="707.50" stroke="#333" stroke-width="0.9"/>
<text x="116.80" y="716.00" font-size="8.4" text-anchor="middle" fill="#222">0</text>
<line x1="134.30" y1="705.20" x2="134.30" y2="707.50" stroke="#333" stroke-width="0.9"/>
<text x="134.30" y="716.00" font-size="8.4" text-anchor="middle" fill="#222">5</text>
<line x1="151.80" y1="705.20" x2="151.80" y2="707.50" stroke="#333" stroke-width="0.9"/>
<text x="151.80" y="716.00" font-size="8.4" text-anchor="middle" fill="#222">10</text>
<line x1="169.30" y1="705.20" x2="169.30" y2="707.50" stroke="#333" stroke-width="0.9"/>
<text x="169.30" y="716.00" font-size="8.4" text-anchor="middle" fill="#222">15</text>
<text x="120.30" y="726.30" font-size="9.4" text-anchor="middle" fill="#222">UMAP_1</text>
<text x="47.30" y="658.60" font-size="9.4" text-anchor="middle" fill="#222" transform="rotate(-90 47.30 658.60)">UMAP_2</text>
<line x1="70.00" y1="757.80" x2="70.00" y2="846.20" stroke="#333" stroke-width="0.9"/>
<line x1="69.60" y1="846.20" x2="170.30" y2="846.20" stroke="#333" stroke-width="0.9"/>
<line x1="67.70" y1="769.30" x2="70.00" y2="769.30" stroke="#333" stroke-width="0.9"/>
<text x="65.60" y="772.30" font-size="8.4" text-anchor="end" fill="#222">10</text>
<line x1="67.70" y1="794.40" x2="70.00" y2="794.40" stroke="#333" stroke-width="0.9"/>
<text x="65.60" y="797.40" font-size="8.4" text-anchor="end" fill="#222">0</text>
<line x1="67.70" y1="819.50" x2="70.00" y2="819.50" stroke="#333" stroke-width="0.9"/>
<text x="65.60" y="822.50" font-size="8.4" text-anchor="end" fill="#222">−10</text>
<line x1="67.70" y1="844.60" x2="70.00" y2="844.60" stroke="#333" stroke-width="0.9"/>
<text x="65.60" y="847.60" font-size="8.4" text-anchor="end" fill="#222">−20</text>
<line x1="81.80" y1="846.20" x2="81.80" y2="848.50" stroke="#333" stroke-width="0.9"/>
<text x="81.80" y="857.00" font-size="8.4" text-anchor="middle" fill="#222">−10</text>
<line x1="99.30" y1="846.20" x2="99.30" y2="848.50" stroke="#333" stroke-width="0.9"/>
<text x="99.30" y="857.00" font-size="8.4" text-anchor="middle" fill="#222">−5</text>
<line x1="116.80" y1="846.20" x2="116.80" y2="848.50" stroke="#333" stroke-width="0.9"/>
<text x="116.80" y="857.00" font-size="8.4" text-anchor="middle" fill="#222">0</text>
<line x1="134.30" y1="846.20" x2="134.30" y2="848.50" stroke="#333" stroke-width="0.9"/>
<text x="134.30" y="857.00" font-size="8.4" text-anchor="middle" fill="#222">5</text>
<line x1="151.80" y1="846.20" x2="151.80" y2="848.50" stroke="#333" stroke-width="0.9"/>
<text x="151.80" y="857.00" font-size="8.4" text-anchor="middle" fill="#222">10</text>
<line x1="169.30" y1="846.20" x2="169.30" y2="848.50" stroke="#333" stroke-width="0.9"/>
<text x="169.30" y="857.00" font-size="8.4" text-anchor="middle" fill="#222">15</text>
<text x="120.30" y="867.30" font-size="9.4" text-anchor="middle" fill="#222">UMAP_1</text>
<text x="47.30" y="799.60" font-size="9.4" text-anchor="middle" fill="#222" transform="rotate(-90 47.30 799.60)">UMAP_2</text>
<path d="M99.00 620.00C100.37 619.50 105.33 619.08 106.50 619.50C107.67 619.92 106.58 621.83 106.00 622.50C105.42 623.17 103.67 622.83 103.00 623.50C102.33 624.17 101.83 625.50 102.00 626.50C102.17 627.50 103.08 628.67 104.00 629.50C104.92 630.33 106.83 630.67 107.50 631.50C108.17 632.33 108.58 634.00 108.00 634.50C107.42 635.00 105.33 634.92 104.00 634.50C102.67 634.08 101.00 633.25 100.00 632.00C99.00 630.75 98.28 628.58 98.00 627.00C97.72 625.42 98.13 623.67 98.30 622.50C98.47 621.33 97.63 620.50 99.00 620.00Z" fill="#c4c4c4"/>
<path d="M118.30 620.60C118.85 619.50 119.80 618.98 120.90 618.60C122.00 618.22 123.68 617.97 124.90 618.30C126.12 618.63 127.72 619.90 128.20 620.60C128.68 621.30 128.30 621.90 127.80 622.50C127.30 623.10 125.80 623.32 125.20 624.20C124.60 625.08 123.82 626.65 124.20 627.80C124.58 628.95 127.28 630.12 127.50 631.10C127.72 632.08 126.60 633.27 125.50 633.70C124.40 634.13 122.22 633.53 120.90 633.70C119.58 633.87 118.37 635.03 117.60 634.70C116.83 634.37 116.47 632.75 116.30 631.70C116.13 630.65 116.38 629.48 116.60 628.40C116.82 627.32 117.32 626.50 117.60 625.20C117.88 623.90 117.75 621.70 118.30 620.60Z" fill="#c4c4c4"/>
<path d="M106.40 633.70C107.28 633.27 110.05 633.43 111.70 633.10C113.35 632.77 115.32 631.43 116.30 631.70C117.28 631.97 118.03 633.78 117.60 634.70C117.17 635.62 115.02 636.85 113.70 637.20C112.38 637.55 110.92 637.05 109.70 636.80C108.48 636.55 106.95 636.22 106.40 635.70C105.85 635.18 105.52 634.13 106.40 633.70Z" fill="#c4c4c4"/>
<path d="M99.20 635.20C99.53 634.78 102.52 634.57 103.50 634.80C104.48 635.03 105.43 636.18 105.10 636.60C104.77 637.02 102.48 637.53 101.50 637.30C100.52 637.07 98.87 635.62 99.20 635.20Z" fill="#c4c4c4"/>
<path d="M101.00 638.00C101.25 637.70 102.37 637.83 102.60 638.20C102.83 638.57 102.65 639.90 102.40 640.20C102.15 640.50 101.33 640.37 101.10 640.00C100.87 639.63 100.75 638.30 101.00 638.00Z" fill="#c4c4c4"/>
<path d="M98.30 653.90C98.47 652.90 99.72 651.65 100.80 650.90C101.88 650.15 103.65 649.98 104.80 649.40C105.95 648.82 106.80 648.22 107.70 647.40C108.60 646.58 109.62 644.40 110.20 644.50C110.78 644.60 110.62 647.27 111.20 648.00C111.78 648.73 112.78 649.00 113.70 648.90C114.62 648.80 115.78 647.72 116.70 647.40C117.62 647.08 118.70 646.25 119.20 647.00C119.70 647.75 119.78 650.08 119.70 651.90C119.62 653.72 119.37 656.57 118.70 657.90C118.03 659.23 116.12 659.00 115.70 659.90C115.28 660.80 116.87 662.65 116.20 663.30C115.53 663.95 112.95 664.12 111.70 663.80C110.45 663.48 110.02 662.13 108.70 661.40C107.38 660.67 105.28 660.15 103.80 659.40C102.32 658.65 100.72 657.82 99.80 656.90C98.88 655.98 98.13 654.90 98.30 653.90Z" fill="#c4c4c4"/>
<path d="M121.70 651.90C122.77 651.15 126.12 650.90 127.60 651.40C129.08 651.90 130.18 653.73 130.60 654.90C131.02 656.07 130.85 657.40 130.10 658.40C129.35 659.40 127.35 660.73 126.10 660.90C124.85 661.07 123.42 660.23 122.60 659.40C121.78 658.57 121.35 657.15 121.20 655.90C121.05 654.65 120.63 652.65 121.70 651.90Z" fill="#c4c4c4"/>
<path d="M117.70 666.30C118.68 665.75 122.12 664.38 123.60 664.30C125.08 664.22 126.27 665.22 126.60 665.80C126.93 666.38 126.58 667.38 125.60 667.80C124.62 668.22 122.02 668.33 120.70 668.30C119.38 668.27 118.20 667.93 117.70 667.60C117.20 667.27 116.72 666.85 117.70 666.30Z" fill="#c4c4c4"/>
<path d="M78.00 660.90C78.75 660.05 80.43 659.57 82.00 659.40C83.57 659.23 87.15 659.50 87.40 659.90C87.65 660.30 84.48 661.12 83.50 661.80C82.52 662.48 81.25 663.05 81.50 664.00C81.75 664.95 83.83 666.42 85.00 667.50C86.17 668.58 87.33 669.42 88.50 670.50C89.67 671.58 91.50 672.83 92.00 674.00C92.50 675.17 92.33 677.00 91.50 677.50C90.67 678.00 88.33 677.75 87.00 677.00C85.67 676.25 84.58 674.42 83.50 673.00C82.42 671.58 81.50 669.92 80.50 668.50C79.50 667.08 77.92 665.77 77.50 664.50C77.08 663.23 77.25 661.75 78.00 660.90Z" fill="#c4c4c4"/>
<path d="M106.50 676.00C107.03 675.22 108.63 674.33 110.00 674.30C111.37 674.27 113.70 675.10 114.70 675.80C115.70 676.50 115.33 677.72 116.00 678.50C116.67 679.28 117.43 680.45 118.70 680.50C119.97 680.55 121.78 679.58 123.60 678.80C125.42 678.02 128.77 675.65 129.60 675.80C130.43 675.95 129.60 678.68 128.60 679.70C127.60 680.72 125.12 681.18 123.60 681.90C122.08 682.62 119.85 683.32 119.50 684.00C119.15 684.68 121.00 685.28 121.50 686.00C122.00 686.72 122.83 687.80 122.50 688.30C122.17 688.80 120.63 689.18 119.50 689.00C118.37 688.82 117.08 687.70 115.70 687.20C114.32 686.70 112.40 686.87 111.20 686.00C110.00 685.13 109.23 683.17 108.50 682.00C107.77 680.83 107.13 680.00 106.80 679.00C106.47 678.00 105.97 676.78 106.50 676.00Z" fill="#c4c4c4"/>
<path d="M129.60 670.80C130.60 670.05 134.28 669.47 135.60 669.30C136.92 669.13 137.35 668.88 137.50 669.80C137.65 670.72 137.32 673.80 136.50 674.80C135.68 675.80 133.75 675.97 132.60 675.80C131.45 675.63 130.10 674.63 129.60 673.80C129.10 672.97 128.60 671.55 129.60 670.80Z" fill="#c4c4c4"/>
<path d="M138.50 672.50C138.83 672.00 140.50 671.33 141.00 671.50C141.50 671.67 141.83 673.00 141.50 673.50C141.17 674.00 139.50 674.67 139.00 674.50C138.50 674.33 138.17 673.00 138.50 672.50Z" fill="#c4c4c4"/>
<path d="M143.50 674.50C144.00 674.00 146.50 673.25 147.00 673.50C147.50 673.75 147.00 675.50 146.50 676.00C146.00 676.50 144.50 676.75 144.00 676.50C143.50 676.25 143.00 675.00 143.50 674.50Z" fill="#c4c4c4"/>
<path d="M122.60 698.10C122.93 697.27 126.27 694.85 127.60 694.60C128.93 694.35 130.27 695.93 130.60 696.60C130.93 697.27 130.43 698.10 129.60 698.60C128.77 699.10 126.77 699.68 125.60 699.60C124.43 699.52 122.27 698.93 122.60 698.10Z" fill="#c4c4c4"/>
<circle cx="113" cy="652" r="0.7" fill="#fff" fill-opacity="0.6"/>
<circle cx="116" cy="655" r="0.7" fill="#fff" fill-opacity="0.6"/>
<circle cx="107" cy="657" r="0.7" fill="#fff" fill-opacity="0.6"/>
<circle cx="124" cy="655" r="0.7" fill="#fff" fill-opacity="0.6"/>
<circle cx="103" cy="625" r="0.7" fill="#fff" fill-opacity="0.6"/>
<circle cx="121" cy="629" r="0.7" fill="#fff" fill-opacity="0.6"/>
<circle cx="112" cy="635" r="0.7" fill="#fff" fill-opacity="0.6"/>
<path d="M142.8 641.1C146.6 641.9 152.8 643.4 158.9 645.7C161 646.6 162.7 648.8 163.6 651C163.8 653 162.8 655 161 656.5C159.5 657.5 157 658.8 155.1 659.5" fill="none" stroke="#ee6a48" stroke-width="2.2" stroke-linecap="round"/>
<path d="M154.80 657.20C155.35 656.62 157.22 656.12 157.80 656.50C158.38 656.88 158.57 658.72 158.30 659.50C158.03 660.28 156.83 661.12 156.20 661.20C155.57 661.28 154.73 660.67 154.50 660.00C154.27 659.33 154.25 657.78 154.80 657.20Z" fill="#ec7d60"/>
<circle cx="100.8" cy="636.6" r="0.75" fill="#e8532f"/>
<circle cx="110.5" cy="631.5" r="0.75" fill="#e8532f"/>
<circle cx="116" cy="629" r="0.75" fill="#e8532f"/>
<circle cx="120" cy="628" r="0.75" fill="#e8532f"/>
<circle cx="98.5" cy="655.5" r="0.75" fill="#e8532f"/>
<circle cx="114" cy="650" r="0.75" fill="#e8532f"/>
<circle cx="127" cy="656.5" r="0.75" fill="#e8532f"/>
<circle cx="111.5" cy="676.5" r="0.75" fill="#e8532f"/>
<circle cx="113.5" cy="680" r="0.75" fill="#e8532f"/>
<circle cx="134" cy="672.5" r="0.75" fill="#e8532f"/>
<circle cx="147.5" cy="672.5" r="0.75" fill="#e8532f"/>
<circle cx="153" cy="679.5" r="0.75" fill="#e8532f"/>
<circle cx="151" cy="666.5" r="0.75" fill="#e8532f"/>
<ellipse cx="154.5" cy="645.7" rx="22" ry="11.5" transform="rotate(24 154.5 645.7)" fill="none" stroke="#e8532f" stroke-width="1.5" stroke-dasharray="4 2.6"/>
<path d="M98.50 761.90C99.40 760.73 101.68 760.38 103.40 760.30C105.12 760.22 108.25 760.77 108.80 761.40C109.35 762.03 107.60 763.12 106.70 764.10C105.80 765.08 103.77 766.03 103.40 767.30C103.03 768.57 103.78 770.70 104.50 771.70C105.22 772.70 107.52 772.58 107.70 773.30C107.88 774.02 106.58 775.55 105.60 776.00C104.62 776.45 102.88 776.45 101.80 776.00C100.72 775.55 99.73 774.75 99.10 773.30C98.47 771.85 98.10 769.20 98.00 767.30C97.90 765.40 97.60 763.07 98.50 761.90Z" fill="#c4c4c4"/>
<path d="M118.60 760.80C119.60 760.17 122.47 759.20 124.00 759.20C125.53 759.20 127.08 759.63 127.80 760.80C128.52 761.97 128.40 764.38 128.30 766.20C128.20 768.02 127.28 770.43 127.20 771.70C127.12 772.97 128.15 773.18 127.80 773.80C127.45 774.42 126.37 775.30 125.10 775.40C123.83 775.50 121.65 775.02 120.20 774.40C118.75 773.78 116.85 772.88 116.40 771.70C115.95 770.52 117.23 768.75 117.50 767.30C117.77 765.85 117.82 764.08 118.00 763.00C118.18 761.92 117.60 761.43 118.60 760.80Z" fill="#c4c4c4"/>
<path d="M107.70 773.50C108.28 772.92 110.53 772.50 112.00 772.50C113.47 772.50 115.58 772.83 116.50 773.50C117.42 774.17 118.25 775.83 117.50 776.50C116.75 777.17 113.50 777.58 112.00 777.50C110.50 777.42 109.22 776.67 108.50 776.00C107.78 775.33 107.12 774.08 107.70 773.50Z" fill="#c4c4c4"/>
<path d="M99.20 777.20C99.63 776.63 101.97 777.00 102.60 777.60C103.23 778.20 103.43 780.23 103.00 780.80C102.57 781.37 100.63 781.60 100.00 781.00C99.37 780.40 98.77 777.77 99.20 777.20Z" fill="#c4c4c4"/>
<path d="M98.50 793.30C99.13 792.40 100.93 792.23 102.30 791.70C103.67 791.17 105.43 791.10 106.70 790.10C107.97 789.10 109.10 785.88 109.90 785.70C110.70 785.52 110.60 788.37 111.50 789.00C112.40 789.63 114.03 789.60 115.30 789.50C116.57 789.40 118.10 787.77 119.10 788.40C120.10 789.03 121.57 792.12 121.30 793.30C121.03 794.48 117.95 794.60 117.50 795.50C117.05 796.40 118.97 797.43 118.60 798.70C118.23 799.97 116.57 802.20 115.30 803.10C114.03 804.00 112.43 804.28 111.00 804.10C109.57 803.92 108.15 802.72 106.70 802.00C105.25 801.28 103.67 800.62 102.30 799.80C100.93 798.98 99.13 798.18 98.50 797.10C97.87 796.02 97.87 794.20 98.50 793.30Z" fill="#c4c4c4"/>
<path d="M122.90 797.50C123.40 796.85 125.18 796.27 126.00 796.60C126.82 796.93 127.97 798.70 127.80 799.50C127.63 800.30 125.80 801.23 125.00 801.40C124.20 801.57 123.35 801.15 123.00 800.50C122.65 799.85 122.40 798.15 122.90 797.50Z" fill="#c4c4c4"/>
<path d="M118.60 807.60C119.02 807.28 121.25 807.03 122.50 807.00C123.75 806.97 125.60 807.12 126.10 807.40C126.60 807.68 126.52 808.45 125.50 808.70C124.48 808.95 121.15 809.08 120.00 808.90C118.85 808.72 118.18 807.92 118.60 807.60Z" fill="#c4c4c4"/>
<path d="M109.40 816.60C110.20 815.35 112.85 815.65 114.20 816.10C115.55 816.55 116.05 818.40 117.50 819.30C118.95 820.20 121.10 821.23 122.90 821.50C124.70 821.77 127.32 820.82 128.30 820.90C129.28 820.98 129.70 821.55 128.80 822.00C127.90 822.45 124.43 822.97 122.90 823.60C121.37 824.23 119.78 824.98 119.60 825.80C119.42 826.62 121.80 827.87 121.80 828.50C121.80 829.13 120.68 829.68 119.60 829.60C118.52 829.52 116.73 828.45 115.30 828.00C113.87 827.55 111.98 827.63 111.00 826.90C110.02 826.17 109.67 825.32 109.40 823.60C109.13 821.88 108.60 817.85 109.40 816.60Z" fill="#c4c4c4"/>
<path d="M130.00 812.00C131.00 811.17 135.00 810.50 137.00 810.50C139.00 810.50 140.17 812.08 142.00 812.00C143.83 811.92 146.25 810.08 148.00 810.00C149.75 809.92 152.17 810.75 152.50 811.50C152.83 812.25 151.42 813.75 150.00 814.50C148.58 815.25 145.83 815.25 144.00 816.00C142.17 816.75 140.50 818.83 139.00 819.00C137.50 819.17 136.33 817.58 135.00 817.00C133.67 816.42 131.83 816.33 131.00 815.50C130.17 814.67 129.00 812.83 130.00 812.00Z" fill="#c4c4c4"/>
<path d="M122.90 839.30C123.27 838.73 128.13 836.77 129.40 836.60C130.67 836.43 130.87 837.73 130.50 838.30C130.13 838.87 128.47 839.83 127.20 840.00C125.93 840.17 122.53 839.87 122.90 839.30Z" fill="#c4c4c4"/>
<path d="M85.00 810.50C85.25 809.75 87.00 809.42 87.50 810.00C88.00 810.58 88.25 813.25 88.00 814.00C87.75 814.75 86.50 815.08 86.00 814.50C85.50 813.92 84.75 811.25 85.00 810.50Z" fill="#c4c4c4"/>
<circle cx="80.1" cy="807.4" r="0.8" fill="#c4c4c4"/>
<circle cx="82.3" cy="809.3" r="0.8" fill="#c4c4c4"/>
<circle cx="88.2" cy="817.1" r="0.8" fill="#c4c4c4"/>
<circle cx="91" cy="816" r="0.8" fill="#c4c4c4"/>
<circle cx="84" cy="801" r="0.8" fill="#c4c4c4"/>
<circle cx="144.5" cy="782" r="0.8" fill="#c4c4c4"/>
<circle cx="147" cy="782.5" r="0.8" fill="#c4c4c4"/>
<circle cx="152" cy="786.5" r="0.8" fill="#c4c4c4"/>
<circle cx="156" cy="790.5" r="0.8" fill="#c4c4c4"/>
<circle cx="158" cy="791" r="0.8" fill="#c4c4c4"/>
<circle cx="113" cy="800" r="0.8" fill="#c4c4c4"/>
<circle cx="111" cy="797" r="0.8" fill="#c4c4c4"/>
<circle cx="101" cy="771.5" r="0.75" fill="#e8532f"/>
<circle cx="102.5" cy="781" r="0.75" fill="#e8532f"/>
<circle cx="119.5" cy="769.5" r="0.75" fill="#e8532f"/>
<circle cx="120.5" cy="772" r="0.75" fill="#e8532f"/>
<circle cx="124.5" cy="774" r="0.75" fill="#e8532f"/>
<circle cx="125" cy="760.5" r="0.75" fill="#e8532f"/>
<circle cx="116.5" cy="775" r="0.75" fill="#e8532f"/>
<circle cx="110.5" cy="797.5" r="0.75" fill="#e8532f"/>
<circle cx="115" cy="793.5" r="0.75" fill="#e8532f"/>
<circle cx="145.5" cy="781.5" r="0.75" fill="#e8532f"/>
<circle cx="156.5" cy="812" r="0.75" fill="#e8532f"/>
<circle cx="158" cy="813.5" r="0.75" fill="#e8532f"/>
<ellipse cx="153.9" cy="788.0" rx="22" ry="11.5" transform="rotate(25 153.9 788.0)" fill="none" stroke="#e8532f" stroke-width="1.5" stroke-dasharray="4 2.6"/>
<text x="181.30" y="704.30" font-size="8.8" fill="#222">Tnfsf13b</text>
<rect x="180.00" y="710.00" width="11.00" height="51.70" fill="url(#eg)"/>
<path d="M180 727.9h2.2M188.8 727.9h2.2M180 744.3h2.2M188.8 744.3h2.2" stroke="#fff" stroke-width="0.6"/>
<text x="195.60" y="731.00" font-size="8.4" fill="#222">2</text>
<text x="195.60" y="747.40" font-size="8.4" fill="#222">1</text>
<text x="179.20" y="775.00" font-size="11.0" textLength="54.3" lengthAdjust="spacingAndGlyphs">Expression</text>
<text x="262.7" y="613.5" font-size="13.2" textLength="169" lengthAdjust="spacingAndGlyphs">BAFF production (<tspan font-style="italic">Tnfsf13b</tspan>)</text>
<line x1="282.60" y1="644.40" x2="282.60" y2="782.90" stroke="#111" stroke-width="1.3"/>
<line x1="282.00" y1="782.20" x2="421.20" y2="782.20" stroke="#111" stroke-width="1.3"/>
<line x1="279.00" y1="782.20" x2="282.60" y2="782.20" stroke="#111" stroke-width="1.3"/>
<text x="277.00" y="787.40" font-size="15.0" font-weight="bold" text-anchor="end">0</text>
<line x1="279.00" y1="747.75" x2="282.60" y2="747.75" stroke="#111" stroke-width="1.3"/>
<text x="277.00" y="752.95" font-size="15.0" font-weight="bold" text-anchor="end">5</text>
<line x1="279.00" y1="713.30" x2="282.60" y2="713.30" stroke="#111" stroke-width="1.3"/>
<text x="277.00" y="718.50" font-size="15.0" font-weight="bold" text-anchor="end">10</text>
<line x1="279.00" y1="678.85" x2="282.60" y2="678.85" stroke="#111" stroke-width="1.3"/>
<text x="277.00" y="684.05" font-size="15.0" font-weight="bold" text-anchor="end">15</text>
<line x1="279.00" y1="644.40" x2="282.60" y2="644.40" stroke="#111" stroke-width="1.3"/>
<text x="277.00" y="649.60" font-size="15.0" font-weight="bold" text-anchor="end">20</text>
<line x1="314.70" y1="782.20" x2="314.70" y2="786.00" stroke="#111" stroke-width="1.3"/>
<line x1="389.10" y1="782.20" x2="389.10" y2="786.00" stroke="#111" stroke-width="1.3"/>
<rect x="292.80" y="765.00" width="16.60" height="17.20" fill="#fff" stroke="#111" stroke-width="1.5"/>
<rect x="320.00" y="742.20" width="17.40" height="40.00" fill="#a3a3a3" stroke="#111" stroke-width="1.5"/>
<rect x="366.60" y="716.50" width="16.70" height="65.70" fill="#fff" stroke="#111" stroke-width="1.5"/>
<rect x="393.50" y="676.50" width="17.50" height="105.70" fill="#a3a3a3" stroke="#111" stroke-width="1.5"/>
<path d="M328.7 742.2V740.2M325.5 740.2H332M374.9 716.5V713.2M371.5 713.2H378.3M402.3 676.5V665.7M398.8 665.7H405.8" stroke="#111" stroke-width="1.1" fill="none"/>
<circle cx="294.8" cy="765.5" r="2.5" fill="#111"/>
<circle cx="301.0" cy="764.0" r="2.5" fill="#111"/>
<circle cx="307.7" cy="765.0" r="2.5" fill="#111"/>
<circle cx="368.7" cy="716.5" r="2.5" fill="#111"/>
<circle cx="374.5" cy="720.3" r="2.5" fill="#111"/>
<circle cx="380.4" cy="716.5" r="2.5" fill="#111"/>
<circle cx="322.8" cy="744.5" r="2.5" fill="#d8d8d8" stroke="#111" stroke-width="1.0"/>
<circle cx="329.3" cy="740.7" r="2.5" fill="#d8d8d8" stroke="#111" stroke-width="1.0"/>
<circle cx="335.7" cy="741.6" r="2.5" fill="#d8d8d8" stroke="#111" stroke-width="1.0"/>
<circle cx="395.8" cy="680.9" r="2.5" fill="#d8d8d8" stroke="#111" stroke-width="1.0"/>
<circle cx="402.3" cy="666.3" r="2.5" fill="#d8d8d8" stroke="#111" stroke-width="1.0"/>
<circle cx="408.7" cy="679.4" r="2.5" fill="#d8d8d8" stroke="#111" stroke-width="1.0"/>
<path d="M301 764V727.6H329.3V737.8M374.5 708.6V657H402.3V663.4" stroke="#111" stroke-width="1.0" fill="none"/>
<text x="288.4" y="723.2" font-size="11.2" textLength="53.1" lengthAdjust="spacingAndGlyphs"><tspan font-style="italic">p</tspan> = 0.0001</text>
<text x="362.0" y="651.1" font-size="11.2" textLength="53.4" lengthAdjust="spacingAndGlyphs"><tspan font-style="italic">p</tspan> = 0.0014</text>
<text x="247.80" y="712.30" font-size="13.0" font-weight="bold" text-anchor="middle" textLength="86" lengthAdjust="spacingAndGlyphs" transform="rotate(-90 247.80 712.30)">BAFF (pg/mL)</text>
<text x="292.60" y="805.20" font-size="13.2" font-weight="bold" textLength="42.0" lengthAdjust="spacingAndGlyphs">Spleen</text>
<text x="271.50" y="824.60" font-size="13.2" font-weight="bold" textLength="81.8" lengthAdjust="spacingAndGlyphs">Homogenate</text>
<text x="374.30" y="805.20" font-size="13.2" font-weight="bold" textLength="44.4" lengthAdjust="spacingAndGlyphs">Plasma</text>
<rect x="250.60" y="848.40" width="16.00" height="6.60" fill="#fff" stroke="#111" stroke-width="1.3"/>
<text x="275.50" y="856.60" font-size="13.2" textLength="33.4" lengthAdjust="spacingAndGlyphs">Naïve</text>
<rect x="338.80" y="848.90" width="16.00" height="6.40" fill="#a3a3a3" stroke="#111" stroke-width="1.3"/>
<text x="361.90" y="856.60" font-size="13.2" textLength="38.1" lengthAdjust="spacingAndGlyphs">14 dpi</text>
<text x="470.6" y="614.9" font-size="13.2" textLength="175.6" lengthAdjust="spacingAndGlyphs">BCMA expression  (<tspan font-style="italic">Tnfrsf17</tspan>)</text>
<line x1="501.00" y1="652.00" x2="501.00" y2="781.70" stroke="#111" stroke-width="1.3"/>
<line x1="500.40" y1="781.00" x2="657.30" y2="781.00" stroke="#111" stroke-width="1.3"/>
<line x1="497.60" y1="781.00" x2="501.00" y2="781.00" stroke="#111" stroke-width="1.3"/>
<text x="497.30" y="786.40" font-size="15.4" font-weight="bold" text-anchor="end">0</text>
<line x1="497.60" y1="738.10" x2="501.00" y2="738.10" stroke="#111" stroke-width="1.3"/>
<text x="497.30" y="743.50" font-size="15.4" font-weight="bold" text-anchor="end">2000</text>
<line x1="497.60" y1="695.20" x2="501.00" y2="695.20" stroke="#111" stroke-width="1.3"/>
<text x="497.30" y="700.60" font-size="15.4" font-weight="bold" text-anchor="end">4000</text>
<line x1="497.60" y1="652.30" x2="501.00" y2="652.30" stroke="#111" stroke-width="1.3"/>
<text x="497.30" y="657.70" font-size="15.4" font-weight="bold" text-anchor="end">6000</text>
<line x1="529.00" y1="781.00" x2="529.00" y2="786.00" stroke="#111" stroke-width="1.3"/>
<line x1="563.50" y1="781.00" x2="563.50" y2="786.00" stroke="#111" stroke-width="1.3"/>
<line x1="598.60" y1="781.00" x2="598.60" y2="786.00" stroke="#111" stroke-width="1.3"/>
<line x1="633.20" y1="781.00" x2="633.20" y2="786.00" stroke="#111" stroke-width="1.3"/>
<rect x="517.80" y="698.90" width="22.40" height="82.10" fill="#fff" stroke="#111" stroke-width="1.5"/>
<rect x="552.50" y="743.30" width="22.10" height="37.70" fill="#7c7c7c" stroke="#111" stroke-width="1.5"/>
<rect x="587.40" y="767.20" width="22.40" height="13.80" fill="#fff" stroke="#111" stroke-width="1.5"/>
<rect x="622.00" y="765.70" width="22.50" height="15.30" fill="#7c7c7c" stroke="#111" stroke-width="1.5"/>
<path d="M529 698.9V672.2M523 672.2H535.3M563.5 743.3V737.5M559.8 737.5H567.2" stroke="#111" stroke-width="1.2" fill="none"/>
<circle cx="528.6" cy="671.6" r="2.9" fill="#111"/>
<circle cx="528.6" cy="701.9" r="2.9" fill="#111"/>
<circle cx="528.6" cy="721.9" r="2.9" fill="#111"/>
<circle cx="589.9" cy="767.2" r="2.9" fill="#111"/>
<circle cx="598.5" cy="764.2" r="2.9" fill="#111"/>
<circle cx="607.7" cy="766.6" r="2.9" fill="#111"/>
<circle cx="562.9" cy="736.6" r="2.7" fill="#fff" stroke="#111" stroke-width="1.1"/>
<circle cx="559.2" cy="747.3" r="2.7" fill="#fff" stroke="#111" stroke-width="1.1"/>
<circle cx="569.0" cy="744.8" r="2.7" fill="#fff" stroke="#111" stroke-width="1.1"/>
<circle cx="625.1" cy="765.7" r="2.7" fill="#fff" stroke="#111" stroke-width="1.1"/>
<circle cx="633.4" cy="764.2" r="2.7" fill="#fff" stroke="#111" stroke-width="1.1"/>
<circle cx="642.0" cy="765.7" r="2.7" fill="#fff" stroke="#111" stroke-width="1.1"/>
<path d="M528.6 666V659.9H563.8V727.4M598.2 758V751H633.4V758" stroke="#111" stroke-width="1.1" fill="none"/>
<text x="520.9" y="653.8" font-size="11.2" textLength="51.2" lengthAdjust="spacingAndGlyphs"><tspan font-style="italic">p</tspan> = 0.0406</text>
<text x="608.30" y="744.20" font-size="14.5" textLength="15.3" lengthAdjust="spacingAndGlyphs">ns</text>
<text x="451.30" y="715.10" font-size="13.0" font-weight="bold" text-anchor="middle" textLength="99" lengthAdjust="spacingAndGlyphs" transform="rotate(-90 451.30 715.10)">BCMA-FITC MFI</text>
<text x="529.6" y="791.2" font-size="9.9" font-weight="bold" text-anchor="end" transform="rotate(-47 529.6 791.2)">B220<tspan font-size="6.2" dy="-4.6" font-weight="normal">int</tspan><tspan dy="4.6"> CD138</tspan><tspan font-size="6.2" dy="-4.6" font-weight="normal">+</tspan></text>
<text x="564.2" y="791.2" font-size="9.9" font-weight="bold" text-anchor="end" transform="rotate(-47 564.2 791.2)">B220<tspan font-size="6.2" dy="-4.6" font-weight="normal">int</tspan><tspan dy="4.6"> CD138</tspan><tspan font-size="6.2" dy="-4.6" font-weight="normal">+</tspan></text>
<text x="599.8" y="791.2" font-size="9.9" font-weight="bold" text-anchor="end" transform="rotate(-47 599.8 791.2)">B220<tspan font-size="6.2" dy="-4.6" font-weight="normal">+</tspan><tspan dy="4.6"> CD138</tspan><tspan font-size="6.2" dy="-4.6" font-weight="normal">-</tspan></text>
<text x="634.5" y="791.2" font-size="9.9" font-weight="bold" text-anchor="end" transform="rotate(-47 634.5 791.2)">B220<tspan font-size="6.2" dy="-4.6" font-weight="normal">+</tspan><tspan dy="4.6"> CD138</tspan><tspan font-size="6.2" dy="-4.6" font-weight="normal">-</tspan></text>
<g><path d="M143.43 226.72A91.3 91.3 0 0 1 142.95 226.81Q126.5 137.0 81.85 59.55L80.78 57.28L82.20 59.35Q126.5 137.0 143.43 226.72Z" fill="#e28bdc" fill-opacity="0.18"/><path d="M64.52 204.04A91.3 91.3 0 0 1 64.08 203.63Q126.5 137.0 67.47 69.86L66.03 67.80L67.88 69.50Q126.5 137.0 64.52 204.04Z" fill="#7fb4e4" fill-opacity="0.19"/><path d="M56.53 195.65A91.3 91.3 0 0 1 56.07 195.10Q126.5 137.0 154.80 52.20L155.95 49.95L155.49 52.43Q126.5 137.0 56.53 195.65Z" fill="#7fb4e4" fill-opacity="0.20"/><path d="M160.54 221.72A91.3 91.3 0 0 1 159.65 222.07Q126.5 137.0 151.47 51.16L152.66 48.90L152.42 51.44Q126.5 137.0 160.54 221.72Z" fill="#e28bdc" fill-opacity="0.22"/><path d="M169.79 217.39A91.3 91.3 0 0 1 168.72 217.95Q126.5 137.0 134.06 47.92L134.90 45.49L135.29 48.03Q126.5 137.0 169.79 217.39Z" fill="#e28bdc" fill-opacity="0.24"/><path d="M56.07 195.10A91.3 91.3 0 0 1 55.32 194.17Q126.5 137.0 158.65 53.58L160.14 51.48L159.79 54.03Q126.5 137.0 56.07 195.10Z" fill="#7fb4e4" fill-opacity="0.24"/><path d="M133.42 228.04A91.3 91.3 0 0 1 132.22 228.12Q126.5 137.0 92.89 54.16L92.48 51.63L93.93 53.74Q126.5 137.0 133.42 228.04Z" fill="#e28bdc" fill-opacity="0.24"/><path d="M68.31 207.36A91.3 91.3 0 0 1 67.40 206.59Q126.5 137.0 38.26 122.66L35.89 121.63L38.46 121.44Q126.5 137.0 68.31 207.36Z" fill="#7fb4e4" fill-opacity="0.24"/><path d="M120.42 228.10A91.3 91.3 0 0 1 119.22 228.01Q126.5 137.0 48.01 94.20L46.08 92.53L48.52 93.28Q126.5 137.0 120.42 228.10Z" fill="#e28bdc" fill-opacity="0.24"/><path d="M121.62 228.17A91.3 91.3 0 0 1 120.42 228.10Q126.5 137.0 46.45 97.20L44.45 95.61L46.92 96.27Q126.5 137.0 121.62 228.17Z" fill="#e28bdc" fill-opacity="0.24"/><path d="M132.22 228.12A91.3 91.3 0 0 1 130.66 228.21Q126.5 137.0 99.20 51.87L99.22 49.24L100.73 51.40Q126.5 137.0 132.22 228.12Z" fill="#e28bdc" fill-opacity="0.27"/><path d="M130.66 228.21A91.3 91.3 0 0 1 129.10 228.26Q126.5 137.0 153.28 51.70L154.81 49.57L154.80 52.20Q126.5 137.0 130.66 228.21Z" fill="#e28bdc" fill-opacity="0.27"/><path d="M75.93 213.01A91.3 91.3 0 0 1 74.45 212.01Q126.5 137.0 121.87 47.72L122.69 45.18L123.71 47.64Q126.5 137.0 75.93 213.01Z" fill="#7fb4e4" fill-opacity="0.29"/><path d="M74.45 212.01A91.3 91.3 0 0 1 72.99 210.98Q126.5 137.0 124.61 47.62L125.51 45.11L126.46 47.60Q126.5 137.0 74.45 212.01Z" fill="#7fb4e4" fill-opacity="0.29"/><path d="M173.96 215.00A91.3 91.3 0 0 1 172.41 215.92Q126.5 137.0 127.36 47.60L128.33 45.12L129.20 47.64Q126.5 137.0 173.96 215.00Z" fill="#e28bdc" fill-opacity="0.29"/><path d="M57.69 197.00A91.3 91.3 0 0 1 56.53 195.65Q126.5 137.0 93.93 53.74L93.83 51.10L95.51 53.14Q126.5 137.0 57.69 197.00Z" fill="#7fb4e4" fill-opacity="0.29"/><path d="M158.83 222.39A91.3 91.3 0 0 1 157.14 223.01Q126.5 137.0 37.29 142.77L34.73 141.97L37.19 140.91Q126.5 137.0 158.83 222.39Z" fill="#e28bdc" fill-opacity="0.29"/><path d="M36.82 154.14A91.3 91.3 0 0 1 36.51 152.38Q126.5 137.0 58.74 78.68L57.39 76.42L59.80 77.47Q126.5 137.0 36.82 154.14Z" fill="#7fb4e4" fill-opacity="0.29"/><path d="M37.18 155.89A91.3 91.3 0 0 1 36.82 154.14Q126.5 137.0 54.93 83.43L53.41 81.29L55.88 82.18Q126.5 137.0 37.18 155.89Z" fill="#7fb4e4" fill-opacity="0.29"/><path d="M37.56 157.63A91.3 91.3 0 0 1 37.18 155.89Q126.5 137.0 52.65 86.62L51.04 84.54L53.55 85.33Q126.5 137.0 37.56 157.63Z" fill="#7fb4e4" fill-opacity="0.29"/><path d="M37.98 159.37A91.3 91.3 0 0 1 37.56 157.63Q126.5 137.0 50.51 89.90L48.82 87.90L51.35 88.57Q126.5 137.0 37.98 159.37Z" fill="#7fb4e4" fill-opacity="0.29"/><path d="M38.44 161.10A91.3 91.3 0 0 1 37.98 159.37Q126.5 137.0 48.52 93.28L46.74 91.35L49.30 91.91Q126.5 137.0 38.44 161.10Z" fill="#7fb4e4" fill-opacity="0.29"/><path d="M38.93 162.82A91.3 91.3 0 0 1 38.44 161.10Q126.5 137.0 46.92 96.27L45.07 94.41L47.65 94.87Q126.5 137.0 38.93 162.82Z" fill="#7fb4e4" fill-opacity="0.29"/><path d="M113.84 227.42A91.3 91.3 0 0 1 112.06 227.15Q126.5 137.0 57.70 79.91L56.31 77.68L58.74 78.68Q126.5 137.0 113.84 227.42Z" fill="#e28bdc" fill-opacity="0.29"/><path d="M115.63 227.65A91.3 91.3 0 0 1 113.84 227.42Q126.5 137.0 53.99 84.70L52.44 82.59L54.93 83.43Q126.5 137.0 115.63 227.65Z" fill="#e28bdc" fill-opacity="0.29"/><path d="M117.42 227.85A91.3 91.3 0 0 1 115.63 227.65Q126.5 137.0 51.77 87.93L50.13 85.88L52.65 86.62Q126.5 137.0 117.42 227.85Z" fill="#e28bdc" fill-opacity="0.29"/><path d="M119.22 228.01A91.3 91.3 0 0 1 117.42 227.85Q126.5 137.0 49.69 91.25L47.96 89.28L50.51 89.90Q126.5 137.0 119.22 228.01Z" fill="#e28bdc" fill-opacity="0.29"/><path d="M49.24 185.65A91.3 91.3 0 0 1 48.18 183.92Q126.5 137.0 210.21 105.62L212.92 105.73L210.91 107.54Q126.5 137.0 49.24 185.65Z" fill="#7fb4e4" fill-opacity="0.31"/><path d="M102.56 225.11A91.3 91.3 0 0 1 100.61 224.55Q126.5 137.0 37.94 124.75L35.62 123.34L38.26 122.66Q126.5 137.0 102.56 225.11Z" fill="#7fb4e4" fill-opacity="0.31"/><path d="M45.43 179.00A91.3 91.3 0 0 1 44.52 177.19Q126.5 137.0 39.33 117.18L37.14 115.56L39.82 115.12Q126.5 137.0 45.43 179.00Z" fill="#7fb4e4" fill-opacity="0.31"/><path d="M213.23 165.52A91.3 91.3 0 0 1 212.49 167.67Q126.5 137.0 37.12 135.03L34.65 133.89L37.19 132.92Q126.5 137.0 213.23 165.52Z" fill="#1c821c" fill-opacity="0.30"/><path d="M50.54 187.65A91.3 91.3 0 0 1 49.24 185.65Q126.5 137.0 209.00 102.56L211.78 102.74L209.90 104.80Q126.5 137.0 50.54 187.65Z" fill="#7fb4e4" fill-opacity="0.34"/><path d="M149.64 225.32A91.3 91.3 0 0 1 147.31 225.90Q126.5 137.0 56.35 81.58L55.08 79.16L57.70 79.91Q126.5 137.0 149.64 225.32Z" fill="#e28bdc" fill-opacity="0.34"/><path d="M135.82 227.82A91.3 91.3 0 0 1 133.42 228.04Q126.5 137.0 90.06 55.37L90.10 52.62L92.12 54.47Q126.5 137.0 135.82 227.82Z" fill="#e28bdc" fill-opacity="0.34"/><path d="M138.20 227.55A91.3 91.3 0 0 1 135.82 227.82Q126.5 137.0 87.27 56.67L87.21 53.92L89.30 55.71Q126.5 137.0 138.20 227.55Z" fill="#e28bdc" fill-opacity="0.34"/><path d="M216.65 151.43A91.3 91.3 0 0 1 216.26 153.71Q126.5 137.0 167.58 57.59L169.84 55.96L169.74 58.75Q126.5 137.0 216.65 151.43Z" fill="#7d8fd8" fill-opacity="0.34"/><path d="M216.26 153.71A91.3 91.3 0 0 1 215.80 155.98Q126.5 137.0 170.53 59.19L172.86 57.65L172.65 60.43Q126.5 137.0 216.26 153.71Z" fill="#7d8fd8" fill-opacity="0.34"/><path d="M216.99 149.15A91.3 91.3 0 0 1 216.65 151.43Q126.5 137.0 160.63 54.37L162.75 52.55L162.89 55.34Q126.5 137.0 216.99 149.15Z" fill="#7d8fd8" fill-opacity="0.34"/><path d="M217.27 146.85A91.3 91.3 0 0 1 216.99 149.15Q126.5 137.0 156.34 52.73L158.37 50.80L158.65 53.58Q126.5 137.0 217.27 146.85Z" fill="#7d8fd8" fill-opacity="0.34"/><path d="M39.63 165.09A91.3 91.3 0 0 1 38.93 162.82Q126.5 137.0 45.14 99.94L43.36 97.85L46.11 97.89Q126.5 137.0 39.63 165.09Z" fill="#7fb4e4" fill-opacity="0.34"/><path d="M172.41 215.92A91.3 91.3 0 0 1 169.79 217.39Q126.5 137.0 130.10 47.67L131.78 45.25L133.17 47.85Q126.5 137.0 172.41 215.92Z" fill="#e28bdc" fill-opacity="0.39"/><path d="M168.72 217.95A91.3 91.3 0 0 1 166.04 219.29Q126.5 137.0 136.18 48.13L138.02 45.83L139.23 48.51Q126.5 137.0 168.72 217.95Z" fill="#e28bdc" fill-opacity="0.39"/><path d="M166.04 219.29A91.3 91.3 0 0 1 163.31 220.55Q126.5 137.0 140.12 48.64L142.06 46.43L143.15 49.16Q126.5 137.0 166.04 219.29Z" fill="#e28bdc" fill-opacity="0.39"/><path d="M163.31 220.55A91.3 91.3 0 0 1 160.54 221.72Q126.5 137.0 144.03 49.34L146.07 47.21L147.04 49.99Q126.5 137.0 163.31 220.55Z" fill="#e28bdc" fill-opacity="0.39"/><path d="M176.50 213.39A91.3 91.3 0 0 1 173.96 215.00Q126.5 137.0 96.29 52.86L96.94 49.98L99.20 51.87Q126.5 137.0 176.50 213.39Z" fill="#e28bdc" fill-opacity="0.39"/><path d="M93.85 222.26A91.3 91.3 0 0 1 91.09 221.15Q126.5 137.0 173.42 60.90L176.07 59.61L176.01 62.56Q126.5 137.0 93.85 222.26Z" fill="#7fb4e4" fill-opacity="0.39"/><path d="M42.54 172.86A91.3 91.3 0 0 1 41.41 170.11Q126.5 137.0 41.54 109.16L39.63 107.00L42.47 106.48Q126.5 137.0 42.54 172.86Z" fill="#7fb4e4" fill-opacity="0.39"/><path d="M67.40 206.59A91.3 91.3 0 0 1 65.16 204.63Q126.5 137.0 112.14 48.76L113.30 46.05L115.18 48.32Q126.5 137.0 67.40 206.59Z" fill="#7fb4e4" fill-opacity="0.39"/><path d="M157.14 223.01A91.3 91.3 0 0 1 154.29 223.97Q126.5 137.0 60.33 76.88L59.43 74.17L62.19 74.90Q126.5 137.0 157.14 223.01Z" fill="#e28bdc" fill-opacity="0.39"/><path d="M79.18 215.08A91.3 91.3 0 0 1 76.66 213.50Q126.5 137.0 62.19 74.90L61.37 72.17L64.10 72.98Q126.5 137.0 79.18 215.08Z" fill="#7fb4e4" fill-opacity="0.39"/><path d="M212.49 167.67A91.3 91.3 0 0 1 211.16 171.18Q126.5 137.0 108.75 49.38L109.99 46.59L112.14 48.76Q126.5 137.0 212.49 167.67Z" fill="#1c821c" fill-opacity="0.30"/><path d="M41.10 169.29A91.3 91.3 0 0 1 39.90 165.92Q126.5 137.0 72.05 66.09L71.86 63.10L74.67 64.16Q126.5 137.0 41.10 169.29Z" fill="#7fb4e4" fill-opacity="0.44"/><path d="M217.80 137.32A91.3 91.3 0 0 1 217.72 140.79Q126.5 137.0 147.91 50.20L150.35 48.25L151.47 51.16Q126.5 137.0 217.80 137.32Z" fill="#7d8fd8" fill-opacity="0.44"/><path d="M52.78 190.87A91.3 91.3 0 0 1 50.54 187.65Q126.5 137.0 207.01 98.13L210.13 98.90L208.66 101.75Q126.5 137.0 52.78 190.87Z" fill="#7fb4e4" fill-opacity="0.47"/><path d="M153.45 224.23A91.3 91.3 0 0 1 149.64 225.32Q126.5 137.0 37.47 128.83L35.20 126.50L37.94 124.75Q126.5 137.0 153.45 224.23Z" fill="#e28bdc" fill-opacity="0.47"/><path d="M147.31 225.90A91.3 91.3 0 0 1 143.43 226.72Q126.5 137.0 75.32 63.70L75.33 60.66L78.15 61.80Q126.5 137.0 147.31 225.90Z" fill="#e28bdc" fill-opacity="0.47"/><path d="M187.47 204.96A91.3 91.3 0 0 1 184.46 207.54Q126.5 137.0 37.19 132.92L34.82 130.70L37.47 128.83Q126.5 137.0 187.47 204.96Z" fill="#e28bdc" fill-opacity="0.47"/><path d="M179.96 211.01A91.3 91.3 0 0 1 176.50 213.39Q126.5 137.0 78.78 61.40L79.02 58.32L81.85 59.55Q126.5 137.0 179.96 211.01Z" fill="#e28bdc" fill-opacity="0.49"/><path d="M60.50 200.08A91.3 91.3 0 0 1 57.69 197.00Q126.5 137.0 38.46 121.44L36.42 118.81L39.33 117.18Q126.5 137.0 60.50 200.08Z" fill="#7fb4e4" fill-opacity="0.49"/><path d="M55.32 194.17A91.3 91.3 0 0 1 52.78 190.87Q126.5 137.0 162.89 55.34L165.91 53.98L166.77 57.19Q126.5 137.0 55.32 194.17Z" fill="#7fb4e4" fill-opacity="0.49"/><path d="M64.08 203.63A91.3 91.3 0 0 1 61.11 200.71Q126.5 137.0 68.48 68.98L68.36 65.83L71.42 66.58Q126.5 137.0 64.08 203.63Z" fill="#7fb4e4" fill-opacity="0.49"/><path d="M72.29 210.46A91.3 91.3 0 0 1 68.99 207.91Q126.5 137.0 64.67 72.43L64.37 69.29L67.47 69.86Q126.5 137.0 72.29 210.46Z" fill="#7fb4e4" fill-opacity="0.49"/><path d="M142.95 226.81A91.3 91.3 0 0 1 138.20 227.55Q126.5 137.0 82.86 58.98L83.51 55.77L86.53 57.03Q126.5 137.0 142.95 226.81Z" fill="#e28bdc" fill-opacity="0.54"/><path d="M47.73 183.17A91.3 91.3 0 0 1 45.43 179.00Q126.5 137.0 37.19 140.91L34.61 138.46L37.11 135.94Q126.5 137.0 47.73 183.17Z" fill="#7fb4e4" fill-opacity="0.54"/><path d="M44.52 177.19A91.3 91.3 0 0 1 42.54 172.86Q126.5 137.0 40.03 114.31L38.23 111.43L41.29 109.95Q126.5 137.0 44.52 177.19Z" fill="#7fb4e4" fill-opacity="0.54"/><path d="M184.46 207.54A91.3 91.3 0 0 1 180.67 210.49Q126.5 137.0 116.07 48.21L118.30 45.47L120.97 47.77Q126.5 137.0 184.46 207.54Z" fill="#e28bdc" fill-opacity="0.54"/><path d="M217.72 140.79A91.3 91.3 0 0 1 217.36 145.98Q126.5 137.0 211.19 108.38L214.41 110.23L212.77 113.56Q126.5 137.0 217.72 140.79Z" fill="#7d8fd8" fill-opacity="0.59"/><path d="M84.62 218.13A91.3 91.3 0 0 1 79.93 215.53Q126.5 137.0 183.37 68.02L187.13 67.94L187.53 71.67Q126.5 137.0 84.62 218.13Z" fill="#7fb4e4" fill-opacity="0.59"/><path d="M128.22 228.28A91.3 91.3 0 0 1 121.62 228.17Q126.5 137.0 42.76 105.71L41.59 101.85L45.14 99.94Q126.5 137.0 128.22 228.28Z" fill="#e28bdc" fill-opacity="0.69"/><path d="M91.09 221.15A91.3 91.3 0 0 1 84.62 218.13Q126.5 137.0 176.75 63.06L181.25 63.19L182.68 67.46Q126.5 137.0 91.09 221.15Z" fill="#7fb4e4" fill-opacity="0.74"/><path d="M100.61 224.55A91.3 91.3 0 0 1 93.85 222.26Q126.5 137.0 100.73 51.40L103.66 47.98L107.87 49.56Q126.5 137.0 100.61 224.55Z" fill="#7fb4e4" fill-opacity="0.74"/><path d="M211.16 171.18A91.3 91.3 0 0 1 206.89 180.28Q126.5 137.0 188.19 72.29L193.19 73.77L194.40 78.84Q126.5 137.0 211.16 171.18Z" fill="#2f8f2f" fill-opacity="0.97"/><path d="M206.89 180.28A91.3 91.3 0 0 1 201.65 188.85Q126.5 137.0 194.97 79.51L199.78 81.54L200.42 86.71Q126.5 137.0 206.89 180.28Z" fill="#1f7f1f" fill-opacity="0.97"/><path d="M201.65 188.85A91.3 91.3 0 0 1 193.71 198.80Q126.5 137.0 200.91 87.44L206.09 91.05L206.62 97.34Q126.5 137.0 201.65 188.85Z" fill="#0c6c0c" fill-opacity="0.97"/></g>
<path d="M225.50 137.35A99.0 99.0 0 0 1 225.02 146.74L220.24 146.26A94.2 94.2 0 0 0 220.70 137.33Z" fill="#4a5cb8"/><path d="M224.92 147.68A99.0 99.0 0 0 1 223.34 157.58L218.64 156.59A94.2 94.2 0 0 0 220.15 147.16Z" fill="#4a5cb8"/><path d="M220.55 167.92A99.0 99.0 0 0 1 199.37 204.01L195.84 200.76A94.2 94.2 0 0 0 215.99 166.42Z" fill="#147a14"/><path d="M192.62 210.69A99.0 99.0 0 0 1 185.24 216.69L182.39 212.83A94.2 94.2 0 0 0 189.41 207.11Z" fill="#d47fcf"/><path d="M184.47 217.25A99.0 99.0 0 0 1 162.44 229.25L160.70 224.77A94.2 94.2 0 0 0 181.66 213.36Z" fill="#d47fcf"/><path d="M161.55 229.59A99.0 99.0 0 0 1 156.63 231.30L155.17 226.73A94.2 94.2 0 0 0 159.85 225.10Z" fill="#d47fcf"/><path d="M155.73 231.59A99.0 99.0 0 0 1 129.32 235.96L129.18 231.16A94.2 94.2 0 0 0 154.31 227.00Z" fill="#d47fcf"/><path d="M128.37 235.98A99.0 99.0 0 0 1 110.84 234.75L111.60 230.01A94.2 94.2 0 0 0 128.28 231.18Z" fill="#d47fcf"/><path d="M100.54 232.54A99.0 99.0 0 0 1 76.01 222.15L78.45 218.03A94.2 94.2 0 0 0 101.80 227.90Z" fill="#6fa8dc"/><path d="M75.19 221.67A99.0 99.0 0 0 1 72.46 219.95L75.08 215.93A94.2 94.2 0 0 0 77.68 217.56Z" fill="#6fa8dc"/><path d="M71.66 219.43A99.0 99.0 0 0 1 68.48 217.22L71.29 213.33A94.2 94.2 0 0 0 74.32 215.43Z" fill="#6fa8dc"/><path d="M67.71 216.66A99.0 99.0 0 0 1 64.14 213.89L67.16 210.16A94.2 94.2 0 0 0 70.56 212.79Z" fill="#6fa8dc"/><path d="M63.41 213.29A99.0 99.0 0 0 1 59.99 210.33L63.22 206.78A94.2 94.2 0 0 0 66.46 209.59Z" fill="#6fa8dc"/><path d="M59.29 209.69A99.0 99.0 0 0 1 55.59 206.09L59.03 202.74A94.2 94.2 0 0 0 62.55 206.17Z" fill="#6fa8dc"/><path d="M54.93 205.40A99.0 99.0 0 0 1 41.58 187.88L45.69 185.41A94.2 94.2 0 0 0 58.40 202.09Z" fill="#6fa8dc"/><path d="M41.09 187.06A99.0 99.0 0 0 1 34.24 172.90L38.71 171.16A94.2 94.2 0 0 0 45.23 184.64Z" fill="#6fa8dc"/><path d="M33.90 172.01A99.0 99.0 0 0 1 32.60 168.36L37.15 166.84A94.2 94.2 0 0 0 38.39 170.31Z" fill="#6fa8dc"/><path d="M32.30 167.46A99.0 99.0 0 0 1 28.92 153.68L33.65 152.87A94.2 94.2 0 0 0 36.87 165.98Z" fill="#6fa8dc"/><path d="M27.71 143.39A99.0 99.0 0 0 1 27.51 135.82L32.31 135.88A94.2 94.2 0 0 0 32.50 143.08Z" fill="#8b1515"/><path d="M27.52 134.82A99.0 99.0 0 0 1 30.51 112.77L35.16 113.95A94.2 94.2 0 0 0 32.32 134.92Z" fill="#8b1515"/><path d="M30.74 111.88A99.0 99.0 0 0 1 32.14 107.05L36.71 108.50A94.2 94.2 0 0 0 35.38 113.09Z" fill="#8b1515"/><path d="M32.42 106.18A99.0 99.0 0 0 1 33.45 103.21L37.96 104.85A94.2 94.2 0 0 0 36.98 107.67Z" fill="#8b1515"/><path d="M33.76 102.34A99.0 99.0 0 0 1 37.47 93.69L41.79 95.79A94.2 94.2 0 0 0 38.26 104.02Z" fill="#8b1515"/><path d="M37.85 92.93A99.0 99.0 0 0 1 39.18 90.35L43.42 92.61A94.2 94.2 0 0 0 42.15 95.07Z" fill="#8b1515"/><path d="M39.59 89.60A99.0 99.0 0 0 1 41.01 87.07L45.16 89.49A94.2 94.2 0 0 0 43.80 91.90Z" fill="#8b1515"/><path d="M41.45 86.34A99.0 99.0 0 0 1 43.28 83.37L47.32 85.97A94.2 94.2 0 0 0 45.57 88.79Z" fill="#8b1515"/><path d="M43.75 82.66A99.0 99.0 0 0 1 45.71 79.78L49.63 82.55A94.2 94.2 0 0 0 47.76 85.29Z" fill="#8b1515"/><path d="M46.21 79.09A99.0 99.0 0 0 1 48.30 76.29L52.09 79.24A94.2 94.2 0 0 0 50.10 81.89Z" fill="#8b1515"/><path d="M48.82 75.62A99.0 99.0 0 0 1 52.64 71.08L56.22 74.27A94.2 94.2 0 0 0 52.59 78.60Z" fill="#8b1515"/><path d="M53.23 70.42A99.0 99.0 0 0 1 57.40 66.10L60.75 69.54A94.2 94.2 0 0 0 56.78 73.65Z" fill="#8b1515"/><path d="M58.03 65.49A99.0 99.0 0 0 1 61.59 62.25L64.73 65.88A94.2 94.2 0 0 0 61.35 68.96Z" fill="#8b1515"/><path d="M62.25 61.68A99.0 99.0 0 0 1 65.51 59.02L68.47 62.80A94.2 94.2 0 0 0 65.37 65.33Z" fill="#8b1515"/><path d="M66.20 58.48A99.0 99.0 0 0 1 69.10 56.34L71.88 60.25A94.2 94.2 0 0 0 69.13 62.29Z" fill="#8b1515"/><path d="M69.82 55.83A99.0 99.0 0 0 1 72.96 53.73L75.56 57.76A94.2 94.2 0 0 0 72.57 59.77Z" fill="#8b1515"/><path d="M73.66 53.28A99.0 99.0 0 0 1 77.45 51.01L79.83 55.18A94.2 94.2 0 0 0 76.22 57.34Z" fill="#8b1515"/><path d="M78.17 50.60A99.0 99.0 0 0 1 82.24 48.45L84.38 52.74A94.2 94.2 0 0 0 80.51 54.79Z" fill="#8b1515"/><path d="M83.06 48.04A99.0 99.0 0 0 1 85.31 46.98L87.31 51.34A94.2 94.2 0 0 0 85.16 52.35Z" fill="#8b1515"/><path d="M86.14 46.60A99.0 99.0 0 0 1 88.43 45.61L90.28 50.04A94.2 94.2 0 0 0 88.10 50.98Z" fill="#8b1515"/><path d="M89.28 45.26A99.0 99.0 0 0 1 92.18 44.14L93.85 48.64A94.2 94.2 0 0 0 91.08 49.71Z" fill="#8b1515"/><path d="M93.05 43.82A99.0 99.0 0 0 1 105.87 40.17L106.87 44.87A94.2 94.2 0 0 0 94.67 48.34Z" fill="#8b1515"/><path d="M106.85 39.97A99.0 99.0 0 0 1 113.97 38.80L114.57 43.56A94.2 94.2 0 0 0 107.80 44.67Z" fill="#8b1515"/><path d="M114.95 38.68A99.0 99.0 0 0 1 120.38 38.19L120.68 42.98A94.2 94.2 0 0 0 115.51 43.44Z" fill="#8b1515"/><path d="M121.37 38.13A99.0 99.0 0 0 1 123.41 38.05L123.56 42.85A94.2 94.2 0 0 0 121.62 42.93Z" fill="#8b1515"/><path d="M124.41 38.02A99.0 99.0 0 0 1 126.45 38.00L126.45 42.80A94.2 94.2 0 0 0 124.51 42.82Z" fill="#8b1515"/><path d="M127.45 38.00A99.0 99.0 0 0 1 129.49 38.05L129.34 42.84A94.2 94.2 0 0 0 127.40 42.80Z" fill="#8b1515"/><path d="M130.48 38.08A99.0 99.0 0 0 1 133.88 38.28L133.52 43.06A94.2 94.2 0 0 0 130.29 42.88Z" fill="#8b1515"/><path d="M134.88 38.35A99.0 99.0 0 0 1 136.23 38.48L135.76 43.26A94.2 94.2 0 0 0 134.47 43.14Z" fill="#8b1515"/><path d="M137.22 38.58A99.0 99.0 0 0 1 140.60 39.01L139.92 43.76A94.2 94.2 0 0 0 136.70 43.35Z" fill="#8b1515"/><path d="M141.58 39.16A99.0 99.0 0 0 1 144.94 39.73L144.04 44.45A94.2 94.2 0 0 0 140.85 43.90Z" fill="#8b1515"/><path d="M145.92 39.92A99.0 99.0 0 0 1 149.24 40.65L148.14 45.32A94.2 94.2 0 0 0 144.97 44.63Z" fill="#8b1515"/><path d="M150.21 40.88A99.0 99.0 0 0 1 155.20 42.25L153.81 46.84A94.2 94.2 0 0 0 149.06 45.54Z" fill="#8b1515"/><path d="M156.15 42.54A99.0 99.0 0 0 1 158.61 43.35L157.05 47.89A94.2 94.2 0 0 0 154.71 47.12Z" fill="#8b1515"/><path d="M159.55 43.68A99.0 99.0 0 0 1 163.37 45.12L161.58 49.58A94.2 94.2 0 0 0 157.95 48.20Z" fill="#8b1515"/><path d="M164.29 45.50A99.0 99.0 0 0 1 171.10 48.62L168.94 52.90A94.2 94.2 0 0 0 162.46 49.93Z" fill="#8b1515"/><path d="M171.99 49.07A99.0 99.0 0 0 1 174.39 50.35L172.07 54.55A94.2 94.2 0 0 0 169.78 53.33Z" fill="#8b1515"/><path d="M175.26 50.84A99.0 99.0 0 0 1 177.61 52.21L175.13 56.32A94.2 94.2 0 0 0 172.89 55.02Z" fill="#8b1515"/><path d="M178.46 52.73A99.0 99.0 0 0 1 181.32 54.57L178.67 58.56A94.2 94.2 0 0 0 175.94 56.82Z" fill="#8b1515"/><path d="M182.15 55.12A99.0 99.0 0 0 1 188.71 59.99L185.69 63.72A94.2 94.2 0 0 0 179.45 59.09Z" fill="#8b1515"/><path d="M189.48 60.62A99.0 99.0 0 0 1 194.09 64.66L190.81 68.17A94.2 94.2 0 0 0 186.43 64.32Z" fill="#8b1515"/><path d="M194.81 65.34A99.0 99.0 0 0 1 201.69 72.60L198.04 75.72A94.2 94.2 0 0 0 191.50 68.82Z" fill="#8b1515"/><path d="M202.32 73.34A99.0 99.0 0 0 1 208.35 81.31L204.38 84.01A94.2 94.2 0 0 0 198.64 76.43Z" fill="#8b1515"/><path d="M208.90 82.12A99.0 99.0 0 0 1 215.23 93.08L210.92 95.21A94.2 94.2 0 0 0 204.90 84.78Z" fill="#8b1515"/><path d="M215.66 93.96A99.0 99.0 0 0 1 217.48 97.96L213.07 99.86A94.2 94.2 0 0 0 211.33 96.05Z" fill="#8b1515"/><path d="M217.86 98.86A99.0 99.0 0 0 1 218.85 101.34L214.38 103.07A94.2 94.2 0 0 0 213.43 100.71Z" fill="#8b1515"/><path d="M219.20 102.25A99.0 99.0 0 0 1 219.97 104.38L215.44 105.96A94.2 94.2 0 0 0 214.71 103.93Z" fill="#8b1515"/><path d="M220.29 105.30A99.0 99.0 0 0 1 222.04 111.04L217.40 112.30A94.2 94.2 0 0 0 215.74 106.84Z" fill="#8b1515"/>
<path d="M218.80 137.32A92.3 92.3 0 0 1 216.78 156.19" stroke="#a83232" stroke-width="0.7" fill="none"/>
<path d="M214.18 165.83A92.3 92.3 0 0 1 194.44 199.48" stroke="#a83232" stroke-width="0.7" fill="none"/>
<path d="M188.14 205.70A92.3 92.3 0 0 1 111.90 228.14" stroke="#a83232" stroke-width="0.7" fill="none"/>
<path d="M102.30 226.07A92.3 92.3 0 0 1 35.52 152.55" stroke="#a83232" stroke-width="0.7" fill="none"/>
<g fill="#111"><text x="227.57" y="142.16" font-size="6.3" textLength="13.54" lengthAdjust="spacingAndGlyphs" dominant-baseline="central" transform="rotate(2.9 227.57 142.16)">Vegfa</text><text x="226.43" y="153.00" font-size="6.3" textLength="15.30" lengthAdjust="spacingAndGlyphs" dominant-baseline="central" transform="rotate(9.1 226.43 153.00)">Rps19</text><text x="213.79" y="188.21" font-size="6.3" textLength="20.59" lengthAdjust="spacingAndGlyphs" dominant-baseline="central" transform="rotate(30.4 213.79 188.21)">Tnfsf13b</text><text x="192.54" y="218.12" font-size="6.3" textLength="14.70" lengthAdjust="spacingAndGlyphs" dominant-baseline="central" transform="rotate(50.9 192.54 218.12)">Mmp9</text><text x="176.52" y="228.87" font-size="6.3" textLength="15.88" lengthAdjust="spacingAndGlyphs" dominant-baseline="central" transform="rotate(61.4 176.52 228.87)">Pik3cb</text><text x="160.95" y="235.76" font-size="6.3" textLength="8.53" lengthAdjust="spacingAndGlyphs" dominant-baseline="central" transform="rotate(70.8 160.95 235.76)">Il27</text><text x="143.59" y="240.20" font-size="6.3" textLength="15.59" lengthAdjust="spacingAndGlyphs" dominant-baseline="central" transform="rotate(80.6 143.59 240.20)">Lgals3</text><text x="119.19" y="241.34" font-size="6.3" textLength="16.18" lengthAdjust="spacingAndGlyphs" text-anchor="end" dominant-baseline="central" transform="rotate(-86.0 119.19 241.34)">Cxcl10</text><text x="85.74" y="233.33" font-size="6.3" textLength="13.53" lengthAdjust="spacingAndGlyphs" text-anchor="end" dominant-baseline="central" transform="rotate(-67.1 85.74 233.33)">Tgfb1</text><text x="70.84" y="225.56" font-size="6.3" textLength="10.59" lengthAdjust="spacingAndGlyphs" text-anchor="end" dominant-baseline="central" transform="rotate(-57.8 70.84 225.56)">Ebi3</text><text x="66.87" y="222.94" font-size="6.3" textLength="15.59" lengthAdjust="spacingAndGlyphs" text-anchor="end" dominant-baseline="central" transform="rotate(-55.2 66.87 222.94)">Nampt</text><text x="62.48" y="219.72" font-size="6.3" textLength="17.65" lengthAdjust="spacingAndGlyphs" text-anchor="end" dominant-baseline="central" transform="rotate(-52.3 62.48 219.72)">H2-T23</text><text x="58.01" y="216.06" font-size="6.3" textLength="7.36" lengthAdjust="spacingAndGlyphs" text-anchor="end" dominant-baseline="central" transform="rotate(-49.1 58.01 216.06)">Ltb</text><text x="53.51" y="211.92" font-size="6.3" textLength="19.71" lengthAdjust="spacingAndGlyphs" text-anchor="end" dominant-baseline="central" transform="rotate(-45.7 53.51 211.92)">Sema4d</text><text x="43.31" y="200.41" font-size="6.3" textLength="16.47" lengthAdjust="spacingAndGlyphs" text-anchor="end" dominant-baseline="central" transform="rotate(-37.3 43.31 200.41)">Vcam1</text><text x="32.34" y="182.56" font-size="6.3" textLength="19.71" lengthAdjust="spacingAndGlyphs" text-anchor="end" dominant-baseline="central" transform="rotate(-25.8 32.34 182.56)">Adam17</text><text x="27.95" y="172.07" font-size="6.3" textLength="8.53" lengthAdjust="spacingAndGlyphs" text-anchor="end" dominant-baseline="central" transform="rotate(-19.6 27.95 172.07)">Il1b</text><text x="24.92" y="161.97" font-size="6.3" textLength="12.36" lengthAdjust="spacingAndGlyphs" text-anchor="end" dominant-baseline="central" transform="rotate(-13.8 24.92 161.97)">Ppbp</text><text x="24.64" y="139.68" font-size="6.3" textLength="10.30" lengthAdjust="spacingAndGlyphs" text-anchor="end" dominant-baseline="central" transform="rotate(-1.5 24.64 139.68)">Il6ra</text><text x="25.52" y="123.32" font-size="6.3" textLength="11.77" lengthAdjust="spacingAndGlyphs" text-anchor="end" dominant-baseline="central" transform="rotate(7.7 25.52 123.32)">Itgb1</text><text x="28.62" y="108.65" font-size="6.3" textLength="16.77" lengthAdjust="spacingAndGlyphs" text-anchor="end" dominant-baseline="central" transform="rotate(16.2 28.62 108.65)">Notch1</text><text x="30.18" y="103.74" font-size="6.3" textLength="13.53" lengthAdjust="spacingAndGlyphs" text-anchor="end" dominant-baseline="central" transform="rotate(19.0 30.18 103.74)">Ptch1</text><text x="32.85" y="96.83" font-size="6.3" textLength="13.82" lengthAdjust="spacingAndGlyphs" text-anchor="end" dominant-baseline="central" transform="rotate(23.2 32.85 96.83)">Cxcr3</text><text x="35.93" y="90.30" font-size="6.3" textLength="13.82" lengthAdjust="spacingAndGlyphs" text-anchor="end" dominant-baseline="central" transform="rotate(27.3 35.93 90.30)">Cxcr4</text><text x="37.77" y="86.90" font-size="6.3" textLength="17.65" lengthAdjust="spacingAndGlyphs" text-anchor="end" dominant-baseline="central" transform="rotate(29.4 37.77 86.90)">Gabbr1</text><text x="39.89" y="83.32" font-size="6.3" textLength="14.71" lengthAdjust="spacingAndGlyphs" text-anchor="end" dominant-baseline="central" transform="rotate(31.8 39.89 83.32)">Gpr18</text><text x="42.32" y="79.58" font-size="6.3" textLength="14.12" lengthAdjust="spacingAndGlyphs" text-anchor="end" dominant-baseline="central" transform="rotate(34.3 42.32 79.58)">S1pr2</text><text x="44.92" y="75.94" font-size="6.3" textLength="14.12" lengthAdjust="spacingAndGlyphs" text-anchor="end" dominant-baseline="central" transform="rotate(36.8 44.92 75.94)">S1pr4</text><text x="48.48" y="71.46" font-size="6.3" textLength="14.71" lengthAdjust="spacingAndGlyphs" text-anchor="end" dominant-baseline="central" transform="rotate(40.0 48.48 71.46)">Gpr55</text><text x="53.20" y="66.22" font-size="6.3" textLength="9.71" lengthAdjust="spacingAndGlyphs" text-anchor="end" dominant-baseline="central" transform="rotate(44.0 53.20 66.22)">Il6st</text><text x="57.84" y="61.71" font-size="6.3" textLength="16.18" lengthAdjust="spacingAndGlyphs" text-anchor="end" dominant-baseline="central" transform="rotate(47.6 57.84 61.71)">Plxnb2</text><text x="62.03" y="58.09" font-size="6.3" textLength="12.35" lengthAdjust="spacingAndGlyphs" text-anchor="end" dominant-baseline="central" transform="rotate(50.8 62.03 58.09)">Ptprc</text><text x="65.92" y="55.06" font-size="6.3" textLength="14.12" lengthAdjust="spacingAndGlyphs" text-anchor="end" dominant-baseline="central" transform="rotate(53.5 65.92 55.06)">Adrb2</text><text x="69.77" y="52.35" font-size="6.3" textLength="16.47" lengthAdjust="spacingAndGlyphs" text-anchor="end" dominant-baseline="central" transform="rotate(56.2 69.77 52.35)">Fcgr2b</text><text x="74.05" y="49.64" font-size="6.3" textLength="13.53" lengthAdjust="spacingAndGlyphs" text-anchor="end" dominant-baseline="central" transform="rotate(59.0 74.05 49.64)">Fcgr3</text><text x="78.83" y="46.94" font-size="6.3" textLength="11.18" lengthAdjust="spacingAndGlyphs" text-anchor="end" dominant-baseline="central" transform="rotate(62.1 78.83 46.94)">Nptn</text><text x="82.94" y="44.88" font-size="6.3" textLength="16.18" lengthAdjust="spacingAndGlyphs" text-anchor="end" dominant-baseline="central" transform="rotate(64.7 82.94 44.88)">Slc1a5</text><text x="86.14" y="43.44" font-size="6.3" textLength="9.42" lengthAdjust="spacingAndGlyphs" text-anchor="end" dominant-baseline="central" transform="rotate(66.7 86.14 43.44)">Spn</text><text x="89.68" y="41.99" font-size="6.3" textLength="9.11" lengthAdjust="spacingAndGlyphs" text-anchor="end" dominant-baseline="central" transform="rotate(68.8 89.68 41.99)">Tfrc</text><text x="98.60" y="38.99" font-size="6.3" textLength="15.30" lengthAdjust="spacingAndGlyphs" text-anchor="end" dominant-baseline="central" transform="rotate(74.1 98.60 38.99)">Tgfbr2</text><text x="109.92" y="36.46" font-size="6.3" textLength="12.16" lengthAdjust="spacingAndGlyphs" text-anchor="end" dominant-baseline="central" transform="rotate(80.6 109.92 36.46)">Traf2</text><text x="117.40" y="35.51" font-size="6.3" textLength="12.65" lengthAdjust="spacingAndGlyphs" text-anchor="end" dominant-baseline="central" transform="rotate(84.9 117.40 35.51)">Cd44</text><text x="122.27" y="35.19" font-size="6.3" textLength="15.01" lengthAdjust="spacingAndGlyphs" text-anchor="end" dominant-baseline="central" transform="rotate(87.6 122.27 35.19)">Anxa6</text><text x="125.40" y="35.11" font-size="6.3" textLength="10.88" lengthAdjust="spacingAndGlyphs" text-anchor="end" dominant-baseline="central" transform="rotate(89.4 125.40 35.11)">Cul5</text><text x="128.53" y="35.12" font-size="6.3" textLength="10.30" lengthAdjust="spacingAndGlyphs" dominant-baseline="central" transform="rotate(271.1 128.53 35.12)">Il3ra</text><text x="132.35" y="35.27" font-size="6.3" textLength="10.30" lengthAdjust="spacingAndGlyphs" dominant-baseline="central" transform="rotate(273.3 132.35 35.27)">Il2rg</text><text x="135.82" y="35.53" font-size="6.3" textLength="10.30" lengthAdjust="spacingAndGlyphs" dominant-baseline="central" transform="rotate(275.2 135.82 35.53)">Il2rb</text><text x="139.28" y="35.90" font-size="6.3" textLength="15.59" lengthAdjust="spacingAndGlyphs" dominant-baseline="central" transform="rotate(277.2 139.28 35.90)">Csf2rb</text><text x="143.75" y="36.57" font-size="6.3" textLength="12.65" lengthAdjust="spacingAndGlyphs" dominant-baseline="central" transform="rotate(279.7 143.75 36.57)">Cd3g</text><text x="148.20" y="37.44" font-size="6.3" textLength="15.59" lengthAdjust="spacingAndGlyphs" dominant-baseline="central" transform="rotate(282.3 148.20 37.44)">Csf2ra</text><text x="153.48" y="38.74" font-size="6.3" textLength="13.53" lengthAdjust="spacingAndGlyphs" dominant-baseline="central" transform="rotate(285.4 153.48 38.74)">Ptk2b</text><text x="158.29" y="40.18" font-size="6.3" textLength="8.82" lengthAdjust="spacingAndGlyphs" dominant-baseline="central" transform="rotate(288.2 158.29 40.18)">Fas</text><text x="162.49" y="41.67" font-size="6.3" textLength="12.35" lengthAdjust="spacingAndGlyphs" dominant-baseline="central" transform="rotate(290.7 162.49 41.67)">Rpsa</text><text x="168.93" y="44.36" font-size="6.3" textLength="11.77" lengthAdjust="spacingAndGlyphs" dominant-baseline="central" transform="rotate(294.6 168.93 44.36)">Itga4</text><text x="174.56" y="47.14" font-size="6.3" textLength="14.41" lengthAdjust="spacingAndGlyphs" dominant-baseline="central" transform="rotate(298.1 174.56 47.14)">Icam1</text><text x="177.90" y="49.01" font-size="6.3" textLength="16.47" lengthAdjust="spacingAndGlyphs" dominant-baseline="central" transform="rotate(300.3 177.90 49.01)">Vcam1</text><text x="181.46" y="51.19" font-size="6.3" textLength="11.77" lengthAdjust="spacingAndGlyphs" dominant-baseline="central" transform="rotate(302.6 181.46 51.19)">Itgb5</text><text x="187.21" y="55.16" font-size="6.3" textLength="15.30" lengthAdjust="spacingAndGlyphs" dominant-baseline="central" transform="rotate(306.6 187.21 55.16)">Tgfbr1</text><text x="193.73" y="60.42" font-size="6.3" textLength="9.11" lengthAdjust="spacingAndGlyphs" dominant-baseline="central" transform="rotate(311.3 193.73 60.42)">Tlr2</text><text x="200.44" y="66.89" font-size="6.3" textLength="22.35" lengthAdjust="spacingAndGlyphs" dominant-baseline="central" transform="rotate(316.5 200.44 66.89)">Tnfrsf13b</text><text x="207.75" y="75.50" font-size="6.3" textLength="22.06" lengthAdjust="spacingAndGlyphs" dominant-baseline="central" transform="rotate(322.9 207.75 75.50)">Tnfrsf13c</text><text x="214.75" y="86.05" font-size="6.3" textLength="19.41" lengthAdjust="spacingAndGlyphs" dominant-baseline="central" transform="rotate(330.0 214.75 86.05)">Tnfrsf17</text><text x="219.23" y="94.75" font-size="6.3" textLength="11.77" lengthAdjust="spacingAndGlyphs" dominant-baseline="central" transform="rotate(335.5 219.23 94.75)">Itgb7</text><text x="221.06" y="99.02" font-size="6.3" textLength="10.59" lengthAdjust="spacingAndGlyphs" dominant-baseline="central" transform="rotate(338.1 221.06 99.02)">Igf2r</text><text x="222.32" y="102.33" font-size="6.3" textLength="11.77" lengthAdjust="spacingAndGlyphs" dominant-baseline="central" transform="rotate(340.1 222.32 102.33)">Itgb2</text><text x="223.98" y="107.32" font-size="6.3" textLength="11.47" lengthAdjust="spacingAndGlyphs" dominant-baseline="central" transform="rotate(343.1 223.98 107.32)">Nrp1</text></g>
<text x="219.8" y="52.099999999999994" font-size="10" fill="#f07272" text-anchor="middle">*</text>
<text x="230.4" y="64.0" font-size="10" fill="#f07272" text-anchor="middle">*</text>
<text x="235.8" y="79.1" font-size="10" fill="#f07272" text-anchor="middle">*</text>
<text x="234.6" y="205.3" font-size="10" fill="#f07272" text-anchor="middle">*</text>
<text x="247.40" y="154.60" font-size="13.2">N1</text>
<text x="238.30" y="212.90" font-size="13.2">N2</text>
<text x="157.70" y="264.70" font-size="13.2">N3</text>
<text x="20.40" y="243.60" font-size="13.2">N4</text>
</svg></body></html>
